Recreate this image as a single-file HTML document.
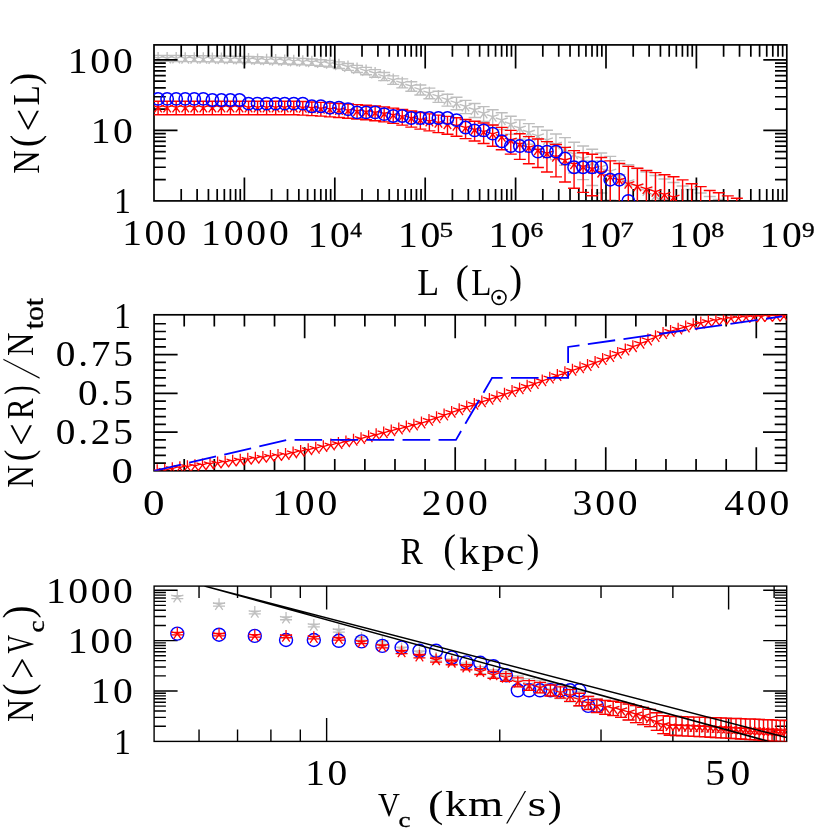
<!DOCTYPE html>
<html><head><meta charset="utf-8"><title>Satellite luminosity, radial and velocity functions</title>
<style>html,body{margin:0;padding:0;background:#fff;overflow:hidden}svg{display:block;will-change:transform}text{font-family:"Liberation Serif",serif;fill:#000}text.s{stroke:#000;stroke-width:.35px;vector-effect:non-scaling-stroke}</style>
</head><body>
<svg width="830" height="830" viewBox="0 0 830 830">
<rect width="830" height="830" fill="#fff"/>
<clipPath id="c1"><rect x="154" y="44.9" width="632.8" height="156"/></clipPath>
<g clip-path="url(#c1)">
<path d="M158.1 55.36V61.33M152.1 55.36H164.1M152.1 61.33H164.1M167.14 55.43V61.42M161.14 55.43H173.14M161.14 61.42H173.14M176.19 55.51V61.5M170.19 55.51H182.19M170.19 61.5H182.19M185.23 55.59V61.59M179.23 55.59H191.23M179.23 61.59H191.23M194.27 55.66V61.67M188.27 55.66H200.27M188.27 61.67H200.27M203.31 55.74V61.75M197.31 55.74H209.31M197.31 61.75H209.31M212.36 55.89V61.92M206.36 55.89H218.36M206.36 61.92H218.36M221.4 56.05V62.09M215.4 56.05H227.4M215.4 62.09H227.4M230.44 56.2V62.26M224.44 56.2H236.44M224.44 62.26H236.44M239.49 56.35V62.43M233.49 56.35H245.49M233.49 62.43H245.49M248.53 56.5V62.6M242.53 56.5H254.53M242.53 62.6H254.53M257.57 56.81V62.94M251.57 56.81H263.57M251.57 62.94H263.57M266.62 57.12V63.28M260.62 57.12H272.62M260.62 63.28H272.62M275.66 57.44V63.63M269.66 57.44H281.66M269.66 63.63H281.66M284.7 57.75V63.97M278.7 57.75H290.7M278.7 63.97H290.7M293.75 58.16V64.43M287.75 58.16H299.75M287.75 64.43H299.75M302.79 58.57V64.89M296.79 58.57H308.79M296.79 64.89H308.79M311.83 58.98V65.34M305.83 58.98H317.83M305.83 65.34H317.83M320.87 59.75V66.19M314.87 59.75H326.87M314.87 66.19H326.87M329.92 60.51V67.04M323.92 60.51H335.92M323.92 67.04H335.92M338.96 61.84V68.52M332.96 61.84H344.96M332.96 68.52H344.96M348 63.46V70.33M342 63.46H354M342 70.33H354M357.05 65.35V72.46M351.05 65.35H363.05M351.05 72.46H363.05M366.09 67.34V74.7M360.09 67.34H372.09M360.09 74.7H372.09M375.13 69.61V77.26M369.13 69.61H381.13M369.13 77.26H381.13M384.17 72.54V80.59M378.17 72.54H390.17M378.17 80.59H390.17M393.22 75.83V84.36M387.22 75.83H399.22M387.22 84.36H399.22M402.26 78.83V87.83M396.26 78.83H408.26M396.26 87.83H408.26M411.3 81.82V91.31M405.3 81.82H417.3M405.3 91.31H417.3M420.35 84.99V95.03M414.35 84.99H426.35M414.35 95.03H426.35M429.39 88.15V98.77M423.39 88.15H435.39M423.39 98.77H435.39M438.43 91.2V102.42M432.43 91.2H444.43M432.43 102.42H444.43M447.48 94.24V106.1M441.48 94.24H453.48M441.48 106.1H453.48M456.52 97.27V109.8M450.52 97.27H462.52M450.52 109.8H462.52M465.56 100.38V113.65M459.56 100.38H471.56M459.56 113.65H471.56M474.61 103.47V117.52M468.61 103.47H480.61M468.61 117.52H480.61M483.65 106.64V121.55M477.65 106.64H489.65M477.65 121.55H489.65M492.69 109.71V125.51M486.69 109.71H498.69M486.69 125.51H498.69M501.73 112.7V129.43M495.73 112.7H507.73M495.73 129.43H507.73M510.78 116.3V134.23M504.78 116.3H516.78M504.78 134.23H516.78M519.82 119.9V139.14M513.82 119.9H525.82M513.82 139.14H525.82M528.86 123.6V144.31M522.86 123.6H534.86M522.86 144.31H534.86M537.91 126.8V148.89M531.91 126.8H543.91M531.91 148.89H543.91M546.95 130.2V153.9M540.95 130.2H552.95M540.95 153.9H552.95M555.99 134V159.67M549.99 134H561.99M549.99 159.67H561.99M565.03 137.6V165.35M559.03 137.6H571.03M559.03 165.35H571.03M574.08 142.2V172.96M568.08 142.2H580.08M568.08 172.96H580.08M583.12 146V179.6M577.12 146H589.12M577.12 179.6H589.12M592.16 149.2V185.51M586.16 149.2H598.16M586.16 185.51H598.16M601.21 153V193M595.21 153H607.21M595.21 193H607.21M610.25 156.4V200.23M604.25 156.4H616.25M604.25 200.23H616.25M619.29 160.6V210.13M613.29 160.6H625.29M613.29 210.13H625.29M628.34 164.8V221.58M622.34 164.8H634.34M622.34 221.58H634.34M637.38 168.5V233.74M631.38 168.5H643.38M631.38 233.74H643.38M646.42 172V248.48M640.42 172H652.42M640.42 248.48H652.42M655.46 175.5V270.37M649.46 175.5H661.46M649.46 270.37H661.46M664.51 179V230.9M658.51 179H670.51M658.51 230.9H670.51M673.55 182.5V230.9M667.55 182.5H679.55M667.55 230.9H679.55M682.59 186V230.9M676.59 186H688.59M676.59 230.9H688.59M691.64 189.5V230.9M685.64 189.5H697.64M685.64 230.9H697.64M700.68 193V230.9M694.68 193H706.68M694.68 230.9H706.68M709.72 196.5V230.9M703.72 196.5H715.72M703.72 230.9H715.72M718.77 199.5V230.9M712.77 199.5H724.77M712.77 230.9H724.77M158.1 58.2L158.1 51.9M158.1 58.2L164.09 56.25M158.1 58.2L161.8 63.3M158.1 58.2L154.4 63.3M158.1 58.2L152.11 56.25M167.14 58.28L167.14 51.98M167.14 58.28L173.13 56.33M167.14 58.28L170.85 63.38M167.14 58.28L163.44 63.38M167.14 58.28L161.15 56.33M176.19 58.36L176.19 52.06M176.19 58.36L182.18 56.41M176.19 58.36L179.89 63.46M176.19 58.36L172.48 63.46M176.19 58.36L170.19 56.41M185.23 58.44L185.23 52.14M185.23 58.44L191.22 56.49M185.23 58.44L188.93 63.54M185.23 58.44L181.53 63.54M185.23 58.44L179.24 56.49M194.27 58.52L194.27 52.22M194.27 58.52L200.26 56.57M194.27 58.52L197.98 63.62M194.27 58.52L190.57 63.62M194.27 58.52L188.28 56.57M203.31 58.6L203.31 52.3M203.31 58.6L209.31 56.65M203.31 58.6L207.02 63.7M203.31 58.6L199.61 63.7M203.31 58.6L197.32 56.65M212.36 58.76L212.36 52.46M212.36 58.76L218.35 56.81M212.36 58.76L216.06 63.86M212.36 58.76L208.65 63.86M212.36 58.76L206.37 56.81M221.4 58.92L221.4 52.62M221.4 58.92L227.39 56.97M221.4 58.92L225.1 64.02M221.4 58.92L217.7 64.02M221.4 58.92L215.41 56.97M230.44 59.08L230.44 52.78M230.44 59.08L236.44 57.13M230.44 59.08L234.15 64.18M230.44 59.08L226.74 64.18M230.44 59.08L224.45 57.13M239.49 59.24L239.49 52.94M239.49 59.24L245.48 57.29M239.49 59.24L243.19 64.34M239.49 59.24L235.78 64.34M239.49 59.24L233.5 57.29M248.53 59.4L248.53 53.1M248.53 59.4L254.52 57.45M248.53 59.4L252.23 64.5M248.53 59.4L244.83 64.5M248.53 59.4L242.54 57.45M257.57 59.72L257.57 53.42M257.57 59.72L263.56 57.78M257.57 59.72L261.28 64.82M257.57 59.72L253.87 64.82M257.57 59.72L251.58 57.78M266.62 60.05L266.62 53.75M266.62 60.05L272.61 58.1M266.62 60.05L270.32 65.15M266.62 60.05L262.91 65.15M266.62 60.05L260.62 58.1M275.66 60.38L275.66 54.08M275.66 60.38L281.65 58.43M275.66 60.38L279.36 65.47M275.66 60.38L271.96 65.47M275.66 60.38L269.67 58.43M284.7 60.7L284.7 54.4M284.7 60.7L290.69 58.75M284.7 60.7L288.41 65.8M284.7 60.7L281 65.8M284.7 60.7L278.71 58.75M293.75 61.13L293.75 54.83M293.75 61.13L299.74 59.19M293.75 61.13L297.45 66.23M293.75 61.13L290.04 66.23M293.75 61.13L287.75 59.19M302.79 61.57L302.79 55.27M302.79 61.57L308.78 59.62M302.79 61.57L306.49 66.66M302.79 61.57L299.08 66.66M302.79 61.57L296.8 59.62M311.83 62L311.83 55.7M311.83 62L317.82 60.05M311.83 62L315.53 67.1M311.83 62L308.13 67.1M311.83 62L305.84 60.05M320.87 62.8L320.87 56.5M320.87 62.8L326.87 60.85M320.87 62.8L324.58 67.9M320.87 62.8L317.17 67.9M320.87 62.8L314.88 60.85M329.92 63.6L329.92 57.3M329.92 63.6L335.91 61.65M329.92 63.6L333.62 68.7M329.92 63.6L326.21 68.7M329.92 63.6L323.93 61.65M338.96 65L338.96 58.7M338.96 65L344.95 63.05M338.96 65L342.66 70.1M338.96 65L335.26 70.1M338.96 65L332.97 63.05M348 66.7L348 60.4M348 66.7L353.99 64.75M348 66.7L351.71 71.8M348 66.7L344.3 71.8M348 66.7L342.01 64.75M357.05 68.7L357.05 62.4M357.05 68.7L363.04 66.75M357.05 68.7L360.75 73.8M357.05 68.7L353.34 73.8M357.05 68.7L351.05 66.75M366.09 70.8L366.09 64.5M366.09 70.8L372.08 68.85M366.09 70.8L369.79 75.9M366.09 70.8L362.39 75.9M366.09 70.8L360.1 68.85M375.13 73.2L375.13 66.9M375.13 73.2L381.12 71.25M375.13 73.2L378.84 78.3M375.13 73.2L371.43 78.3M375.13 73.2L369.14 71.25M384.17 76.3L384.17 70M384.17 76.3L390.17 74.35M384.17 76.3L387.88 81.4M384.17 76.3L380.47 81.4M384.17 76.3L378.18 74.35M393.22 79.8L393.22 73.5M393.22 79.8L399.21 77.85M393.22 79.8L396.92 84.9M393.22 79.8L389.51 84.9M393.22 79.8L387.23 77.85M402.26 83L402.26 76.7M402.26 83L408.25 81.05M402.26 83L405.96 88.1M402.26 83L398.56 88.1M402.26 83L396.27 81.05M411.3 86.2L411.3 79.9M411.3 86.2L417.3 84.25M411.3 86.2L415.01 91.3M411.3 86.2L407.6 91.3M411.3 86.2L405.31 84.25M420.35 89.6L420.35 83.3M420.35 89.6L426.34 87.65M420.35 89.6L424.05 94.7M420.35 89.6L416.64 94.7M420.35 89.6L414.36 87.65M429.39 93L429.39 86.7M429.39 93L435.38 91.05M429.39 93L433.09 98.1M429.39 93L425.69 98.1M429.39 93L423.4 91.05M438.43 96.3L438.43 90M438.43 96.3L444.42 94.35M438.43 96.3L442.14 101.4M438.43 96.3L434.73 101.4M438.43 96.3L432.44 94.35M447.48 99.6L447.48 93.3M447.48 99.6L453.47 97.65M447.48 99.6L451.18 104.7M447.48 99.6L443.77 104.7M447.48 99.6L441.48 97.65M456.52 102.9L456.52 96.6M456.52 102.9L462.51 100.95M456.52 102.9L460.22 108M456.52 102.9L452.82 108M456.52 102.9L450.53 100.95M465.56 106.3L465.56 100M465.56 106.3L471.55 104.35M465.56 106.3L469.27 111.4M465.56 106.3L461.86 111.4M465.56 106.3L459.57 104.35M474.61 109.7L474.61 103.4M474.61 109.7L480.6 107.75M474.61 109.7L478.31 114.8M474.61 109.7L470.9 114.8M474.61 109.7L468.61 107.75M483.65 113.2L483.65 106.9M483.65 113.2L489.64 111.25M483.65 113.2L487.35 118.3M483.65 113.2L479.94 118.3M483.65 113.2L477.66 111.25M492.69 116.6L492.69 110.3M492.69 116.6L498.68 114.65M492.69 116.6L496.39 121.7M492.69 116.6L488.99 121.7M492.69 116.6L486.7 114.65M501.73 119.93L501.73 113.63M501.73 119.93L507.73 117.99M501.73 119.93L505.44 125.03M501.73 119.93L498.03 125.03M501.73 119.93L495.74 117.99M510.78 123.97L510.78 117.67M510.78 123.97L516.77 122.02M510.78 123.97L514.48 129.07M510.78 123.97L507.07 129.07M510.78 123.97L504.79 122.02M519.82 128.03L519.82 121.73M519.82 128.03L525.81 126.09M519.82 128.03L523.52 133.13M519.82 128.03L516.12 133.13M519.82 128.03L513.83 126.09M528.86 132.24L528.86 125.94M528.86 132.24L534.85 130.29M528.86 132.24L532.57 137.33M528.86 132.24L525.16 137.33M528.86 132.24L522.87 130.29M537.91 135.9L537.91 129.6M537.91 135.9L543.9 133.95M537.91 135.9L541.61 140.99M537.91 135.9L534.2 140.99M537.91 135.9L531.91 133.95M546.95 139.81L546.95 133.51M546.95 139.81L552.94 137.86M546.95 139.81L550.65 144.91M546.95 139.81L543.25 144.91M546.95 139.81L540.96 137.86M555.99 144.22L555.99 137.92M555.99 144.22L561.98 142.27M555.99 144.22L559.7 149.32M555.99 144.22L552.29 149.32M555.99 144.22L550 142.27M565.03 148.43L565.03 142.13M565.03 148.43L571.03 146.49M565.03 148.43L568.74 153.53M565.03 148.43L561.33 153.53M565.03 148.43L559.04 146.49M574.08 153.87L574.08 147.57M574.08 153.87L580.07 151.92M574.08 153.87L577.78 158.97M574.08 153.87L570.37 158.97M574.08 153.87L568.09 151.92M583.12 158.41L583.12 152.11M583.12 158.41L589.11 156.46M583.12 158.41L586.82 163.5M583.12 158.41L579.42 163.5M583.12 158.41L577.13 156.46M592.16 162.26L592.16 155.96M592.16 162.26L598.16 160.32M592.16 162.26L595.87 167.36M592.16 162.26L588.46 167.36M592.16 162.26L586.17 160.32M601.21 166.88L601.21 160.58M601.21 166.88L607.2 164.94M601.21 166.88L604.91 171.98M601.21 166.88L597.5 171.98M601.21 166.88L595.22 164.94M610.25 171.06L610.25 164.76M610.25 171.06L616.24 169.12M610.25 171.06L613.95 176.16M610.25 171.06L606.55 176.16M610.25 171.06L604.26 169.12M619.29 176.28L619.29 169.98M619.29 176.28L625.28 174.34M619.29 176.28L623 181.38M619.29 176.28L615.59 181.38M619.29 176.28L613.3 174.34M628.34 181.57L628.34 175.27M628.34 181.57L634.33 179.62M628.34 181.57L632.04 186.67M628.34 181.57L624.63 186.67M628.34 181.57L622.34 179.62M637.38 186.29L637.38 179.99M637.38 186.29L643.37 184.34M637.38 186.29L641.08 191.38M637.38 186.29L633.68 191.38M637.38 186.29L631.39 184.34M646.42 190.8L646.42 184.5M646.42 190.8L652.41 188.86M646.42 190.8L650.13 195.9M646.42 190.8L642.72 195.9M646.42 190.8L640.43 188.86M655.46 195.37L655.46 189.07M655.46 195.37L661.46 193.42M655.46 195.37L659.17 200.47M655.46 195.37L651.76 200.47M655.46 195.37L649.47 193.42M664.51 200L664.51 193.7M664.51 200L670.5 198.05M664.51 200L668.21 205.09M664.51 200L660.8 205.09M664.51 200L658.52 198.05" stroke="#bebebe" stroke-width="1.4" fill="none"/>
</g>
<rect x="154" y="44.9" width="632.8" height="156" fill="none" stroke="#000" stroke-width="1.7"/>
<path d="M244.4 44.9v23.5M244.4 200.9v-23.5M334.8 44.9v23.5M334.8 200.9v-23.5M425.2 44.9v23.5M425.2 200.9v-23.5M515.6 44.9v23.5M515.6 200.9v-23.5M606 44.9v23.5M606 200.9v-23.5M696.4 44.9v23.5M696.4 200.9v-23.5" stroke="#000" stroke-width="1.7" fill="none"/>
<path d="M181.21 44.9v11.8M181.21 200.9v-11.8M197.13 44.9v11.8M197.13 200.9v-11.8M208.43 44.9v11.8M208.43 200.9v-11.8M217.19 44.9v11.8M217.19 200.9v-11.8M224.34 44.9v11.8M224.34 200.9v-11.8M230.4 44.9v11.8M230.4 200.9v-11.8M235.64 44.9v11.8M235.64 200.9v-11.8M240.26 44.9v11.8M240.26 200.9v-11.8M271.61 44.9v11.8M271.61 200.9v-11.8M287.53 44.9v11.8M287.53 200.9v-11.8M298.83 44.9v11.8M298.83 200.9v-11.8M307.59 44.9v11.8M307.59 200.9v-11.8M314.74 44.9v11.8M314.74 200.9v-11.8M320.8 44.9v11.8M320.8 200.9v-11.8M326.04 44.9v11.8M326.04 200.9v-11.8M330.66 44.9v11.8M330.66 200.9v-11.8M362.01 44.9v11.8M362.01 200.9v-11.8M377.93 44.9v11.8M377.93 200.9v-11.8M389.23 44.9v11.8M389.23 200.9v-11.8M397.99 44.9v11.8M397.99 200.9v-11.8M405.14 44.9v11.8M405.14 200.9v-11.8M411.2 44.9v11.8M411.2 200.9v-11.8M416.44 44.9v11.8M416.44 200.9v-11.8M421.06 44.9v11.8M421.06 200.9v-11.8M452.41 44.9v11.8M452.41 200.9v-11.8M468.33 44.9v11.8M468.33 200.9v-11.8M479.63 44.9v11.8M479.63 200.9v-11.8M488.39 44.9v11.8M488.39 200.9v-11.8M495.54 44.9v11.8M495.54 200.9v-11.8M501.6 44.9v11.8M501.6 200.9v-11.8M506.84 44.9v11.8M506.84 200.9v-11.8M511.46 44.9v11.8M511.46 200.9v-11.8M542.81 44.9v11.8M542.81 200.9v-11.8M558.73 44.9v11.8M558.73 200.9v-11.8M570.03 44.9v11.8M570.03 200.9v-11.8M578.79 44.9v11.8M578.79 200.9v-11.8M585.94 44.9v11.8M585.94 200.9v-11.8M592 44.9v11.8M592 200.9v-11.8M597.24 44.9v11.8M597.24 200.9v-11.8M601.86 44.9v11.8M601.86 200.9v-11.8M633.21 44.9v11.8M633.21 200.9v-11.8M649.13 44.9v11.8M649.13 200.9v-11.8M660.43 44.9v11.8M660.43 200.9v-11.8M669.19 44.9v11.8M669.19 200.9v-11.8M676.34 44.9v11.8M676.34 200.9v-11.8M682.4 44.9v11.8M682.4 200.9v-11.8M687.64 44.9v11.8M687.64 200.9v-11.8M692.26 44.9v11.8M692.26 200.9v-11.8M723.61 44.9v11.8M723.61 200.9v-11.8M739.53 44.9v11.8M739.53 200.9v-11.8M750.83 44.9v11.8M750.83 200.9v-11.8M759.59 44.9v11.8M759.59 200.9v-11.8M766.74 44.9v11.8M766.74 200.9v-11.8M772.8 44.9v11.8M772.8 200.9v-11.8M778.04 44.9v11.8M778.04 200.9v-11.8M782.66 44.9v11.8M782.66 200.9v-11.8" stroke="#000" stroke-width="1.7" fill="none"/>
<path d="M154 130.4h23.5M786.8 130.4h-23.5M154 59.9h23.5M786.8 59.9h-23.5" stroke="#000" stroke-width="1.7" fill="none"/>
<path d="M154 179.68h11.8M786.8 179.68h-11.8M154 167.26h11.8M786.8 167.26h-11.8M154 158.45h11.8M786.8 158.45h-11.8M154 151.62h11.8M786.8 151.62h-11.8M154 146.04h11.8M786.8 146.04h-11.8M154 141.32h11.8M786.8 141.32h-11.8M154 137.23h11.8M786.8 137.23h-11.8M154 133.63h11.8M786.8 133.63h-11.8M154 109.18h11.8M786.8 109.18h-11.8M154 96.76h11.8M786.8 96.76h-11.8M154 87.95h11.8M786.8 87.95h-11.8M154 81.12h11.8M786.8 81.12h-11.8M154 75.54h11.8M786.8 75.54h-11.8M154 70.82h11.8M786.8 70.82h-11.8M154 66.73h11.8M786.8 66.73h-11.8M154 63.13h11.8M786.8 63.13h-11.8" stroke="#000" stroke-width="1.7" fill="none"/>
<g clip-path="url(#c1)">
<path d="M158.1 101.29V114.78M152.1 101.29H164.1M152.1 114.78H164.1M167.14 101.29V114.78M161.14 101.29H173.14M161.14 114.78H173.14M176.19 101.29V114.78M170.19 101.29H182.19M170.19 114.78H182.19M185.23 101.29V114.78M179.23 101.29H191.23M179.23 114.78H191.23M194.27 101.29V114.78M188.27 101.29H200.27M188.27 114.78H200.27M203.31 101.29V114.78M197.31 101.29H209.31M197.31 114.78H209.31M212.36 101.29V114.78M206.36 101.29H218.36M206.36 114.78H218.36M221.4 101.29V114.78M215.4 101.29H227.4M215.4 114.78H227.4M230.44 101.29V114.78M224.44 101.29H236.44M224.44 114.78H236.44M239.49 101.29V114.78M233.49 101.29H245.49M233.49 114.78H245.49M248.53 101.29V114.78M242.53 101.29H254.53M242.53 114.78H254.53M257.57 101.29V114.78M251.57 101.29H263.57M251.57 114.78H263.57M266.62 101.29V114.78M260.62 101.29H272.62M260.62 114.78H272.62M275.66 101.29V114.78M269.66 101.29H281.66M269.66 114.78H281.66M284.7 101.29V114.78M278.7 101.29H290.7M278.7 114.78H290.7M293.75 101.29V114.78M287.75 101.29H299.75M287.75 114.78H299.75M302.79 101.56V115.13M296.79 101.56H308.79M296.79 115.13H308.79M311.83 101.93V115.58M305.83 101.93H317.83M305.83 115.58H317.83M320.87 102.38V116.15M314.87 102.38H326.87M314.87 116.15H326.87M329.92 102.93V116.84M323.92 102.93H335.92M323.92 116.84H335.92M338.96 103.47V117.52M332.96 103.47H344.96M332.96 117.52H344.96M348 104.02V118.21M342 104.02H354M342 118.21H354M357.05 104.65V119.02M351.05 104.65H363.05M351.05 119.02H363.05M366.09 105.29V119.82M360.09 105.29H372.09M360.09 119.82H372.09M375.13 106.01V120.74M369.13 106.01H381.13M369.13 120.74H381.13M384.17 106.91V121.9M378.17 106.91H390.17M378.17 121.9H390.17M393.22 108.09V123.41M387.22 108.09H399.22M387.22 123.41H399.22M402.26 109.44V125.16M396.26 109.44H408.26M396.26 125.16H408.26M411.3 110.97V127.15M405.3 110.97H417.3M405.3 127.15H417.3M420.35 112.49V129.15M414.35 112.49H426.35M414.35 129.15H426.35M429.39 113.83V130.92M423.39 113.83H435.39M423.39 130.92H435.39M438.43 115.08V132.59M432.43 115.08H444.43M432.43 132.59H444.43M447.48 116.33V134.26M441.48 116.33H453.48M441.48 134.26H453.48M456.52 117.75V136.19M450.52 117.75H462.52M450.52 136.19H462.52M465.56 119.52V138.61M459.56 119.52H471.56M459.56 138.61H471.56M474.61 121.19V140.93M468.61 121.19H480.61M468.61 140.93H480.61M483.65 123.04V143.52M477.65 123.04H489.65M477.65 143.52H489.65M492.69 124.97V146.26M486.69 124.97H498.69M486.69 146.26H498.69M501.73 127.41V149.79M495.73 127.41H507.73M495.73 149.79H507.73M510.78 130.36V154.14M504.78 130.36H516.78M504.78 154.14H516.78M519.82 133.81V159.38M513.82 133.81H525.82M513.82 159.38H525.82M528.86 136.63V163.81M522.86 136.63H534.86M522.86 163.81H534.86M537.91 138.93V167.51M531.91 138.93H543.91M531.91 167.51H543.91M546.95 141.64V172M540.95 141.64H552.95M540.95 172H552.95M555.99 144.49V176.92M549.99 144.49H561.99M549.99 176.92H561.99M565.03 147.33V182.02M559.03 147.33H571.03M559.03 182.02H571.03M574.08 150.63V188.27M568.08 150.63H580.08M568.08 188.27H580.08M583.12 152.69V192.35M577.12 152.69H589.12M577.12 192.35H589.12M592.16 154.32V195.73M586.16 154.32H598.16M586.16 195.73H598.16M601.21 157.48V202.67M595.21 157.48H607.21M595.21 202.67H607.21M610.25 160.85V210.77M604.25 160.85H616.25M604.25 210.77H616.25M619.29 163.56V217.99M613.29 163.56H625.29M613.29 217.99H625.29M628.34 166.4V226.52M622.34 166.4H634.34M622.34 226.52H634.34M637.38 168.2V232.64M631.38 168.2H643.38M631.38 232.64H643.38M646.42 170.45V241.42M640.42 170.45H652.42M640.42 241.42H652.42M655.46 172.61V251.6M649.46 172.61H661.46M649.46 251.6H661.46M664.51 174.68V264.14M658.51 174.68H670.51M658.51 264.14H670.51M673.55 176.81V283.15M667.55 176.81H679.55M667.55 283.15H679.55M682.59 179.9V230.9M676.59 179.9H688.59M676.59 230.9H688.59M691.64 183.7V230.9M685.64 183.7H697.64M685.64 230.9H697.64M700.68 186.6V230.9M694.68 186.6H706.68M694.68 230.9H706.68M709.72 190.5V230.9M703.72 190.5H715.72M703.72 230.9H715.72M718.77 192.8V230.9M712.77 192.8H724.77M712.77 230.9H724.77M727.81 195.9V230.9M721.81 195.9H733.81M721.81 230.9H733.81M736.85 198.2V230.9M730.85 198.2H742.85M730.85 230.9H742.85M158.1 107.3L158.1 101M158.1 107.3L164.09 105.35M158.1 107.3L161.8 112.4M158.1 107.3L154.4 112.4M158.1 107.3L152.11 105.35M167.14 107.3L167.14 101M167.14 107.3L173.13 105.35M167.14 107.3L170.85 112.4M167.14 107.3L163.44 112.4M167.14 107.3L161.15 105.35M176.19 107.3L176.19 101M176.19 107.3L182.18 105.35M176.19 107.3L179.89 112.4M176.19 107.3L172.48 112.4M176.19 107.3L170.19 105.35M185.23 107.3L185.23 101M185.23 107.3L191.22 105.35M185.23 107.3L188.93 112.4M185.23 107.3L181.53 112.4M185.23 107.3L179.24 105.35M194.27 107.3L194.27 101M194.27 107.3L200.26 105.35M194.27 107.3L197.98 112.4M194.27 107.3L190.57 112.4M194.27 107.3L188.28 105.35M203.31 107.3L203.31 101M203.31 107.3L209.31 105.35M203.31 107.3L207.02 112.4M203.31 107.3L199.61 112.4M203.31 107.3L197.32 105.35M212.36 107.3L212.36 101M212.36 107.3L218.35 105.35M212.36 107.3L216.06 112.4M212.36 107.3L208.65 112.4M212.36 107.3L206.37 105.35M221.4 107.3L221.4 101M221.4 107.3L227.39 105.35M221.4 107.3L225.1 112.4M221.4 107.3L217.7 112.4M221.4 107.3L215.41 105.35M230.44 107.3L230.44 101M230.44 107.3L236.44 105.35M230.44 107.3L234.15 112.4M230.44 107.3L226.74 112.4M230.44 107.3L224.45 105.35M239.49 107.3L239.49 101M239.49 107.3L245.48 105.35M239.49 107.3L243.19 112.4M239.49 107.3L235.78 112.4M239.49 107.3L233.5 105.35M248.53 107.3L248.53 101M248.53 107.3L254.52 105.35M248.53 107.3L252.23 112.4M248.53 107.3L244.83 112.4M248.53 107.3L242.54 105.35M257.57 107.3L257.57 101M257.57 107.3L263.56 105.35M257.57 107.3L261.28 112.4M257.57 107.3L253.87 112.4M257.57 107.3L251.58 105.35M266.62 107.3L266.62 101M266.62 107.3L272.61 105.35M266.62 107.3L270.32 112.4M266.62 107.3L262.91 112.4M266.62 107.3L260.62 105.35M275.66 107.3L275.66 101M275.66 107.3L281.65 105.35M275.66 107.3L279.36 112.4M275.66 107.3L271.96 112.4M275.66 107.3L269.67 105.35M284.7 107.3L284.7 101M284.7 107.3L290.69 105.35M284.7 107.3L288.41 112.4M284.7 107.3L281 112.4M284.7 107.3L278.71 105.35M293.75 107.3L293.75 101M293.75 107.3L299.74 105.35M293.75 107.3L297.45 112.4M293.75 107.3L290.04 112.4M293.75 107.3L287.75 105.35M302.79 107.6L302.79 101.3M302.79 107.6L308.78 105.65M302.79 107.6L306.49 112.7M302.79 107.6L299.08 112.7M302.79 107.6L296.8 105.65M311.83 108L311.83 101.7M311.83 108L317.82 106.05M311.83 108L315.53 113.1M311.83 108L308.13 113.1M311.83 108L305.84 106.05M320.87 108.5L320.87 102.2M320.87 108.5L326.87 106.55M320.87 108.5L324.58 113.6M320.87 108.5L317.17 113.6M320.87 108.5L314.88 106.55M329.92 109.1L329.92 102.8M329.92 109.1L335.91 107.15M329.92 109.1L333.62 114.2M329.92 109.1L326.21 114.2M329.92 109.1L323.93 107.15M338.96 109.7L338.96 103.4M338.96 109.7L344.95 107.75M338.96 109.7L342.66 114.8M338.96 109.7L335.26 114.8M338.96 109.7L332.97 107.75M348 110.3L348 104M348 110.3L353.99 108.35M348 110.3L351.71 115.4M348 110.3L344.3 115.4M348 110.3L342.01 108.35M357.05 111L357.05 104.7M357.05 111L363.04 109.05M357.05 111L360.75 116.1M357.05 111L353.34 116.1M357.05 111L351.05 109.05M366.09 111.7L366.09 105.4M366.09 111.7L372.08 109.75M366.09 111.7L369.79 116.8M366.09 111.7L362.39 116.8M366.09 111.7L360.1 109.75M375.13 112.5L375.13 106.2M375.13 112.5L381.12 110.55M375.13 112.5L378.84 117.6M375.13 112.5L371.43 117.6M375.13 112.5L369.14 110.55M384.17 113.5L384.17 107.2M384.17 113.5L390.17 111.55M384.17 113.5L387.88 118.6M384.17 113.5L380.47 118.6M384.17 113.5L378.18 111.55M393.22 114.8L393.22 108.5M393.22 114.8L399.21 112.85M393.22 114.8L396.92 119.9M393.22 114.8L389.51 119.9M393.22 114.8L387.23 112.85M402.26 116.3L402.26 110M402.26 116.3L408.25 114.35M402.26 116.3L405.96 121.4M402.26 116.3L398.56 121.4M402.26 116.3L396.27 114.35M411.3 118L411.3 111.7M411.3 118L417.3 116.05M411.3 118L415.01 123.1M411.3 118L407.6 123.1M411.3 118L405.31 116.05M420.35 119.7L420.35 113.4M420.35 119.7L426.34 117.75M420.35 119.7L424.05 124.8M420.35 119.7L416.64 124.8M420.35 119.7L414.36 117.75M429.39 121.2L429.39 114.9M429.39 121.2L435.38 119.25M429.39 121.2L433.09 126.3M429.39 121.2L425.69 126.3M429.39 121.2L423.4 119.25M438.43 122.6L438.43 116.3M438.43 122.6L444.42 120.65M438.43 122.6L442.14 127.7M438.43 122.6L434.73 127.7M438.43 122.6L432.44 120.65M447.48 124L447.48 117.7M447.48 124L453.47 122.05M447.48 124L451.18 129.1M447.48 124L443.77 129.1M447.48 124L441.48 122.05M456.52 125.6L456.52 119.3M456.52 125.6L462.51 123.65M456.52 125.6L460.22 130.7M456.52 125.6L452.82 130.7M456.52 125.6L450.53 123.65M465.56 127.6L465.56 121.3M465.56 127.6L471.55 125.65M465.56 127.6L469.27 132.7M465.56 127.6L461.86 132.7M465.56 127.6L459.57 125.65M474.61 129.5L474.61 123.2M474.61 129.5L480.6 127.55M474.61 129.5L478.31 134.6M474.61 129.5L470.9 134.6M474.61 129.5L468.61 127.55M483.65 131.6L483.65 125.3M483.65 131.6L489.64 129.65M483.65 131.6L487.35 136.7M483.65 131.6L479.94 136.7M483.65 131.6L477.66 129.65M492.69 133.8L492.69 127.5M492.69 133.8L498.68 131.85M492.69 133.8L496.39 138.9M492.69 133.8L488.99 138.9M492.69 133.8L486.7 131.85M501.73 136.6L501.73 130.3M501.73 136.6L507.73 134.65M501.73 136.6L505.44 141.7M501.73 136.6L498.03 141.7M501.73 136.6L495.74 134.65M510.78 140L510.78 133.7M510.78 140L516.77 138.05M510.78 140L514.48 145.1M510.78 140L507.07 145.1M510.78 140L504.79 138.05M519.82 144L519.82 137.7M519.82 144L525.81 142.05M519.82 144L523.52 149.1M519.82 144L516.12 149.1M519.82 144L513.83 142.05M528.86 147.3L528.86 141M528.86 147.3L534.85 145.35M528.86 147.3L532.57 152.4M528.86 147.3L525.16 152.4M528.86 147.3L522.87 145.35M537.91 150L537.91 143.7M537.91 150L543.9 148.05M537.91 150L541.61 155.1M537.91 150L534.2 155.1M537.91 150L531.91 148.05M546.95 153.2L546.95 146.9M546.95 153.2L552.94 151.25M546.95 153.2L550.65 158.3M546.95 153.2L543.25 158.3M546.95 153.2L540.96 151.25M555.99 156.6L555.99 150.3M555.99 156.6L561.98 154.65M555.99 156.6L559.7 161.7M555.99 156.6L552.29 161.7M555.99 156.6L550 154.65M565.03 160L565.03 153.7M565.03 160L571.03 158.05M565.03 160L568.74 165.1M565.03 160L561.33 165.1M565.03 160L559.04 158.05M574.08 164L574.08 157.7M574.08 164L580.07 162.05M574.08 164L577.78 169.1M574.08 164L570.37 169.1M574.08 164L568.09 162.05M583.12 166.5L583.12 160.2M583.12 166.5L589.11 164.55M583.12 166.5L586.82 171.6M583.12 166.5L579.42 171.6M583.12 166.5L577.13 164.55M592.16 168.5L592.16 162.2M592.16 168.5L598.16 166.55M592.16 168.5L595.87 173.6M592.16 168.5L588.46 173.6M592.16 168.5L586.17 166.55M601.21 172.4L601.21 166.1M601.21 172.4L607.2 170.45M601.21 172.4L604.91 177.5M601.21 172.4L597.5 177.5M601.21 172.4L595.22 170.45M610.25 176.6L610.25 170.3M610.25 176.6L616.24 174.65M610.25 176.6L613.95 181.7M610.25 176.6L606.55 181.7M610.25 176.6L604.26 174.65M619.29 180L619.29 173.7M619.29 180L625.28 178.05M619.29 180L623 185.1M619.29 180L615.59 185.1M619.29 180L613.3 178.05M628.34 183.6L628.34 177.3M628.34 183.6L634.33 181.65M628.34 183.6L632.04 188.7M628.34 183.6L624.63 188.7M628.34 183.6L622.34 181.65M637.38 185.9L637.38 179.6M637.38 185.9L643.37 183.95M637.38 185.9L641.08 191M637.38 185.9L633.68 191M637.38 185.9L631.39 183.95M646.42 188.8L646.42 182.5M646.42 188.8L652.41 186.85M646.42 188.8L650.13 193.9M646.42 188.8L642.72 193.9M646.42 188.8L640.43 186.85M655.46 191.6L655.46 185.3M655.46 191.6L661.46 189.65M655.46 191.6L659.17 196.7M655.46 191.6L651.76 196.7M655.46 191.6L649.47 189.65M664.51 194.3L664.51 188M664.51 194.3L670.5 192.35M664.51 194.3L668.21 199.4M664.51 194.3L660.8 199.4M664.51 194.3L658.52 192.35M673.55 197.1L673.55 190.8M673.55 197.1L679.54 195.15M673.55 197.1L677.25 202.2M673.55 197.1L669.85 202.2M673.55 197.1L667.56 195.15" stroke="#ff0000" stroke-width="1.4" fill="none"/>
<g fill="none" stroke="#0000ff" stroke-width="1.5">
<circle cx="158.1" cy="98.88" r="6.2"/>
<circle cx="167.14" cy="98.88" r="6.2"/>
<circle cx="176.19" cy="98.88" r="6.2"/>
<circle cx="185.23" cy="98.88" r="6.2"/>
<circle cx="194.27" cy="98.88" r="6.2"/>
<circle cx="203.31" cy="98.88" r="6.2"/>
<circle cx="212.36" cy="99.99" r="6.2"/>
<circle cx="221.4" cy="99.99" r="6.2"/>
<circle cx="230.44" cy="99.99" r="6.2"/>
<circle cx="239.49" cy="99.99" r="6.2"/>
<circle cx="248.53" cy="103.6" r="6.2"/>
<circle cx="257.57" cy="103.6" r="6.2"/>
<circle cx="266.62" cy="103.6" r="6.2"/>
<circle cx="275.66" cy="103.6" r="6.2"/>
<circle cx="284.7" cy="103.6" r="6.2"/>
<circle cx="293.75" cy="103.6" r="6.2"/>
<circle cx="302.79" cy="103.6" r="6.2"/>
<circle cx="311.83" cy="106.26" r="6.2"/>
<circle cx="320.87" cy="106.26" r="6.2"/>
<circle cx="329.92" cy="107.68" r="6.2"/>
<circle cx="338.96" cy="107.68" r="6.2"/>
<circle cx="348" cy="109.18" r="6.2"/>
<circle cx="357.05" cy="112.4" r="6.2"/>
<circle cx="366.09" cy="112.4" r="6.2"/>
<circle cx="375.13" cy="112.4" r="6.2"/>
<circle cx="384.17" cy="114.15" r="6.2"/>
<circle cx="393.22" cy="116.01" r="6.2"/>
<circle cx="402.26" cy="116.01" r="6.2"/>
<circle cx="411.3" cy="117.99" r="6.2"/>
<circle cx="420.35" cy="117.99" r="6.2"/>
<circle cx="429.39" cy="117.99" r="6.2"/>
<circle cx="438.43" cy="117.99" r="6.2"/>
<circle cx="447.48" cy="117.99" r="6.2"/>
<circle cx="456.52" cy="120.1" r="6.2"/>
<circle cx="465.56" cy="127.48" r="6.2"/>
<circle cx="474.61" cy="130.4" r="6.2"/>
<circle cx="483.65" cy="130.4" r="6.2"/>
<circle cx="492.69" cy="133.63" r="6.2"/>
<circle cx="501.73" cy="141.32" r="6.2"/>
<circle cx="510.78" cy="146.04" r="6.2"/>
<circle cx="519.82" cy="146.04" r="6.2"/>
<circle cx="528.86" cy="146.04" r="6.2"/>
<circle cx="537.91" cy="151.62" r="6.2"/>
<circle cx="546.95" cy="151.62" r="6.2"/>
<circle cx="555.99" cy="151.62" r="6.2"/>
<circle cx="565.03" cy="158.45" r="6.2"/>
<circle cx="574.08" cy="167.26" r="6.2"/>
<circle cx="583.12" cy="167.26" r="6.2"/>
<circle cx="592.16" cy="167.26" r="6.2"/>
<circle cx="601.21" cy="167.26" r="6.2"/>
<circle cx="610.25" cy="179.68" r="6.2"/>
<circle cx="619.29" cy="179.68" r="6.2"/>
<circle cx="628.34" cy="200.9" r="6.2"/>
</g></g>
<text transform="translate(67.63,72.69) scale(1.100,1)" font-size="36" letter-spacing="2.66">100</text>
<text transform="translate(90.63,142.59) scale(1.100,1)" font-size="36" letter-spacing="2.41">10</text>
<text transform="translate(114.03,213.1) scale(0.926,1)" font-size="36.52">1</text>
<text transform="translate(122.23,245.34) scale(1.100,1)" font-size="36" letter-spacing="2.16">100</text>
<text transform="translate(200.93,245.34) scale(1.100,1)" font-size="36" letter-spacing="2.65">1000</text>
<text transform="translate(307.63,246.94) scale(1.100,1)" font-size="36" letter-spacing="2.41">10</text>
<text class="s" transform="translate(350.23,237) scale(1.097,1)" font-size="21.36">4</text>
<text transform="translate(398.03,246.94) scale(1.100,1)" font-size="36" letter-spacing="2.41">10</text>
<text class="s" transform="translate(439.47,236.79) scale(1.285,1)" font-size="21.2">5</text>
<text transform="translate(488.43,246.94) scale(1.100,1)" font-size="36" letter-spacing="2.41">10</text>
<text class="s" transform="translate(530.49,236.79) scale(1.205,1)" font-size="21.04">6</text>
<text transform="translate(578.83,246.94) scale(1.100,1)" font-size="36" letter-spacing="2.41">10</text>
<text class="s" transform="translate(620.15,237) scale(1.250,1)" font-size="21.53">7</text>
<text transform="translate(669.23,246.94) scale(1.100,1)" font-size="36" letter-spacing="2.41">10</text>
<text class="s" transform="translate(711.26,236.79) scale(1.242,1)" font-size="20.89">8</text>
<text transform="translate(759.63,246.94) scale(1.100,1)" font-size="36" letter-spacing="2.41">10</text>
<text class="s" transform="translate(801.94,236.79) scale(1.205,1)" font-size="21.04">9</text>
<text transform="translate(417.13,295) scale(0.945,1)" font-size="37.86">L</text>
<text transform="translate(455.5,293.42) scale(1.014,1)" font-size="39.45">(</text>
<text transform="translate(471.21,295) scale(0.874,1)" font-size="37.86">L</text>
<circle cx="499" cy="297.5" r="7" fill="none" stroke="#000" stroke-width="1.5"/><circle cx="499" cy="297.5" r="2" fill="#000"/>
<text transform="translate(509.33,293.42) scale(0.985,1)" font-size="39.45">)</text>
<text transform="translate(39.3,173.77) rotate(-90) scale(0.845,1)" font-size="38.32">N</text>
<text transform="translate(38.28,146.96) rotate(-90) scale(0.909,1)" font-size="40.55">(</text>
<text transform="translate(43.03,131.42) rotate(-90) scale(0.904,1)" font-size="44.74">&lt;</text>
<text transform="translate(39.3,105.5) rotate(-90) scale(0.868,1)" font-size="38.32">L</text>
<text transform="translate(38.28,84.98) rotate(-90) scale(0.892,1)" font-size="40.55">)</text>
<clipPath id="c2"><rect x="154.1" y="314.8" width="632.4" height="156"/></clipPath>
<rect x="154.1" y="314.8" width="632.4" height="156" fill="none" stroke="#000" stroke-width="1.7"/>
<path d="M304.65 314.8v23.5M304.65 470.8v-23.5M455.2 314.8v23.5M455.2 470.8v-23.5M605.75 314.8v23.5M605.75 470.8v-23.5M756.3 314.8v23.5M756.3 470.8v-23.5" stroke="#000" stroke-width="1.7" fill="none"/>
<path d="M184.21 314.8v11.8M184.21 470.8v-11.8M214.32 314.8v11.8M214.32 470.8v-11.8M244.43 314.8v11.8M244.43 470.8v-11.8M274.54 314.8v11.8M274.54 470.8v-11.8M334.76 314.8v11.8M334.76 470.8v-11.8M364.87 314.8v11.8M364.87 470.8v-11.8M394.98 314.8v11.8M394.98 470.8v-11.8M425.09 314.8v11.8M425.09 470.8v-11.8M485.31 314.8v11.8M485.31 470.8v-11.8M515.42 314.8v11.8M515.42 470.8v-11.8M545.53 314.8v11.8M545.53 470.8v-11.8M575.64 314.8v11.8M575.64 470.8v-11.8M635.86 314.8v11.8M635.86 470.8v-11.8M665.97 314.8v11.8M665.97 470.8v-11.8M696.08 314.8v11.8M696.08 470.8v-11.8M726.19 314.8v11.8M726.19 470.8v-11.8" stroke="#000" stroke-width="1.7" fill="none"/>
<path d="M154.1 432.1h23.5M786.5 432.1h-23.5M154.1 393.4h23.5M786.5 393.4h-23.5M154.1 354.7h23.5M786.5 354.7h-23.5" stroke="#000" stroke-width="1.7" fill="none"/>
<path d="M154.1 463.06h11.8M786.5 463.06h-11.8M154.1 455.32h11.8M786.5 455.32h-11.8M154.1 447.58h11.8M786.5 447.58h-11.8M154.1 439.84h11.8M786.5 439.84h-11.8M154.1 424.36h11.8M786.5 424.36h-11.8M154.1 416.62h11.8M786.5 416.62h-11.8M154.1 408.88h11.8M786.5 408.88h-11.8M154.1 401.14h11.8M786.5 401.14h-11.8M154.1 385.66h11.8M786.5 385.66h-11.8M154.1 377.92h11.8M786.5 377.92h-11.8M154.1 370.18h11.8M786.5 370.18h-11.8M154.1 362.44h11.8M786.5 362.44h-11.8M154.1 346.96h11.8M786.5 346.96h-11.8M154.1 339.22h11.8M786.5 339.22h-11.8M154.1 331.48h11.8M786.5 331.48h-11.8M154.1 323.74h11.8M786.5 323.74h-11.8" stroke="#000" stroke-width="1.7" fill="none"/>
<g clip-path="url(#c2)">
<path d="M157.2 470.79L157.2 464.29M157.2 470.79L163.38 468.79M157.2 470.79L161.02 476.05M157.2 470.79L153.38 476.05M157.2 470.79L151.02 468.79M164.75 470.31L164.75 463.81M164.75 470.31L170.93 468.3M164.75 470.31L168.57 475.57M164.75 470.31L160.93 475.57M164.75 470.31L158.57 468.3M172.3 468.73L172.3 462.23M172.3 468.73L178.48 466.72M172.3 468.73L176.12 473.99M172.3 468.73L168.48 473.99M172.3 468.73L166.12 466.72M179.85 467.68L179.85 461.18M179.85 467.68L186.03 465.67M179.85 467.68L183.67 472.94M179.85 467.68L176.03 472.94M179.85 467.68L173.67 465.67M187.4 466.7L187.4 460.2M187.4 466.7L193.58 464.69M187.4 466.7L191.22 471.96M187.4 466.7L183.58 471.96M187.4 466.7L181.22 464.69M194.95 465.8L194.95 459.3M194.95 465.8L201.13 463.79M194.95 465.8L198.77 471.06M194.95 465.8L191.13 471.06M194.95 465.8L188.77 463.79M202.5 464.89L202.5 458.39M202.5 464.89L208.68 462.88M202.5 464.89L206.32 470.15M202.5 464.89L198.68 470.15M202.5 464.89L196.32 462.88M210.05 463.99L210.05 457.49M210.05 463.99L216.23 461.98M210.05 463.99L213.87 469.25M210.05 463.99L206.23 469.25M210.05 463.99L203.87 461.98M217.6 463.08L217.6 456.58M217.6 463.08L223.78 461.07M217.6 463.08L221.42 468.34M217.6 463.08L213.78 468.34M217.6 463.08L211.42 461.07M225.15 462.14L225.15 455.64M225.15 462.14L231.33 460.13M225.15 462.14L228.97 467.39M225.15 462.14L221.33 467.39M225.15 462.14L218.97 460.13M232.7 461.19L232.7 454.69M232.7 461.19L238.88 459.18M232.7 461.19L236.52 466.45M232.7 461.19L228.88 466.45M232.7 461.19L226.52 459.18M240.25 460.24L240.25 453.74M240.25 460.24L246.43 458.23M240.25 460.24L244.07 465.5M240.25 460.24L236.43 465.5M240.25 460.24L234.07 458.23M247.8 459.3L247.8 452.8M247.8 459.3L253.98 457.29M247.8 459.3L251.62 464.55M247.8 459.3L243.98 464.55M247.8 459.3L241.62 457.29M255.35 458.35L255.35 451.85M255.35 458.35L261.53 456.34M255.35 458.35L259.17 463.61M255.35 458.35L251.53 463.61M255.35 458.35L249.17 456.34M262.9 457.4L262.9 450.9M262.9 457.4L269.08 455.39M262.9 457.4L266.72 462.66M262.9 457.4L259.08 462.66M262.9 457.4L256.72 455.39M270.45 456.46L270.45 449.96M270.45 456.46L276.63 454.45M270.45 456.46L274.27 461.71M270.45 456.46L266.63 461.71M270.45 456.46L264.27 454.45M278 455.51L278 449.01M278 455.51L284.18 453.5M278 455.51L281.82 460.77M278 455.51L274.18 460.77M278 455.51L271.82 453.5M285.55 454.56L285.55 448.06M285.55 454.56L291.73 452.55M285.55 454.56L289.37 459.82M285.55 454.56L281.73 459.82M285.55 454.56L279.37 452.55M293.1 452.99L293.1 446.49M293.1 452.99L299.28 450.99M293.1 452.99L296.92 458.25M293.1 452.99L289.28 458.25M293.1 452.99L286.92 450.99M300.65 451.42L300.65 444.92M300.65 451.42L306.83 449.41M300.65 451.42L304.47 456.67M300.65 451.42L296.83 456.67M300.65 451.42L294.47 449.41M308.2 449.84L308.2 443.34M308.2 449.84L314.38 447.83M308.2 449.84L312.02 455.1M308.2 449.84L304.38 455.1M308.2 449.84L302.02 447.83M315.75 448.26L315.75 441.76M315.75 448.26L321.93 446.25M315.75 448.26L319.57 453.52M315.75 448.26L311.93 453.52M315.75 448.26L309.57 446.25M323.3 446.68L323.3 440.18M323.3 446.68L329.48 444.67M323.3 446.68L327.12 451.94M323.3 446.68L319.48 451.94M323.3 446.68L317.12 444.67M330.85 445.1L330.85 438.6M330.85 445.1L337.03 443.1M330.85 445.1L334.67 450.36M330.85 445.1L327.03 450.36M330.85 445.1L324.67 443.1M338.4 443.53L338.4 437.03M338.4 443.53L344.58 441.52M338.4 443.53L342.22 448.79M338.4 443.53L334.58 448.79M338.4 443.53L332.22 441.52M345.95 441.95L345.95 435.45M345.95 441.95L352.13 439.94M345.95 441.95L349.77 447.21M345.95 441.95L342.13 447.21M345.95 441.95L339.77 439.94M353.5 440.37L353.5 433.87M353.5 440.37L359.68 438.36M353.5 440.37L357.32 445.63M353.5 440.37L349.68 445.63M353.5 440.37L347.32 438.36M361.05 438.73L361.05 432.23M361.05 438.73L367.23 436.72M361.05 438.73L364.87 443.99M361.05 438.73L357.23 443.99M361.05 438.73L354.87 436.72M368.6 436.79L368.6 430.29M368.6 436.79L374.78 434.78M368.6 436.79L372.42 442.05M368.6 436.79L364.78 442.05M368.6 436.79L362.42 434.78M376.15 434.85L376.15 428.35M376.15 434.85L382.33 432.84M376.15 434.85L379.97 440.11M376.15 434.85L372.33 440.11M376.15 434.85L369.97 432.84M383.7 432.91L383.7 426.41M383.7 432.91L389.88 430.9M383.7 432.91L387.52 438.17M383.7 432.91L379.88 438.17M383.7 432.91L377.52 430.9M391.25 430.97L391.25 424.47M391.25 430.97L397.43 428.96M391.25 430.97L395.07 436.23M391.25 430.97L387.43 436.23M391.25 430.97L385.07 428.96M398.8 429.03L398.8 422.53M398.8 429.03L404.98 427.02M398.8 429.03L402.62 434.29M398.8 429.03L394.98 434.29M398.8 429.03L392.62 427.02M406.35 427.09L406.35 420.59M406.35 427.09L412.53 425.08M406.35 427.09L410.17 432.35M406.35 427.09L402.53 432.35M406.35 427.09L400.17 425.08M413.9 425.15L413.9 418.65M413.9 425.15L420.08 423.14M413.9 425.15L417.72 430.41M413.9 425.15L410.08 430.41M413.9 425.15L407.72 423.14M421.45 423.12L421.45 416.62M421.45 423.12L427.63 421.11M421.45 423.12L425.27 428.38M421.45 423.12L417.63 428.38M421.45 423.12L415.27 421.11M429 420.45L429 413.95M429 420.45L435.18 418.44M429 420.45L432.82 425.71M429 420.45L425.18 425.71M429 420.45L422.82 418.44M436.55 417.79L436.55 411.29M436.55 417.79L442.73 415.78M436.55 417.79L440.37 423.04M436.55 417.79L432.73 423.04M436.55 417.79L430.37 415.78M444.1 415.12L444.1 408.62M444.1 415.12L450.28 413.11M444.1 415.12L447.92 420.38M444.1 415.12L440.28 420.38M444.1 415.12L437.92 413.11M451.65 412.45L451.65 405.95M451.65 412.45L457.83 410.44M451.65 412.45L455.47 417.71M451.65 412.45L447.83 417.71M451.65 412.45L445.47 410.44M459.2 409.78L459.2 403.28M459.2 409.78L465.38 407.77M459.2 409.78L463.02 415.04M459.2 409.78L455.38 415.04M459.2 409.78L453.02 407.77M466.75 407.11L466.75 400.61M466.75 407.11L472.93 405.11M466.75 407.11L470.57 412.37M466.75 407.11L462.93 412.37M466.75 407.11L460.57 405.11M474.3 404.45L474.3 397.95M474.3 404.45L480.48 402.44M474.3 404.45L478.12 409.71M474.3 404.45L470.48 409.71M474.3 404.45L468.12 402.44M481.85 401.94L481.85 395.44M481.85 401.94L488.03 399.93M481.85 401.94L485.67 407.2M481.85 401.94L478.03 407.2M481.85 401.94L475.67 399.93M489.4 399.43L489.4 392.93M489.4 399.43L495.58 397.42M489.4 399.43L493.22 404.68M489.4 399.43L485.58 404.68M489.4 399.43L483.22 397.42M496.95 396.91L496.95 390.41M496.95 396.91L503.13 394.9M496.95 396.91L500.77 402.17M496.95 396.91L493.13 402.17M496.95 396.91L490.77 394.9M504.5 394.3L504.5 387.8M504.5 394.3L510.68 392.29M504.5 394.3L508.32 399.56M504.5 394.3L500.68 399.56M504.5 394.3L498.32 392.29M512.05 391.62L512.05 385.12M512.05 391.62L518.23 389.61M512.05 391.62L515.87 396.88M512.05 391.62L508.23 396.88M512.05 391.62L505.87 389.61M519.6 388.94L519.6 382.44M519.6 388.94L525.78 386.94M519.6 388.94L523.42 394.2M519.6 388.94L515.78 394.2M519.6 388.94L513.42 386.94M527.15 386.26L527.15 379.76M527.15 386.26L533.33 384.26M527.15 386.26L530.97 391.52M527.15 386.26L523.33 391.52M527.15 386.26L520.97 384.26M534.7 383.59L534.7 377.09M534.7 383.59L540.88 381.58M534.7 383.59L538.52 388.84M534.7 383.59L530.88 388.84M534.7 383.59L528.52 381.58M542.25 380.91L542.25 374.41M542.25 380.91L548.43 378.9M542.25 380.91L546.07 386.16M542.25 380.91L538.43 386.16M542.25 380.91L536.07 378.9M549.8 378.23L549.8 371.73M549.8 378.23L555.98 376.22M549.8 378.23L553.62 383.49M549.8 378.23L545.98 383.49M549.8 378.23L543.62 376.22M557.35 375.55L557.35 369.05M557.35 375.55L563.53 373.54M557.35 375.55L561.17 380.81M557.35 375.55L553.53 380.81M557.35 375.55L551.17 373.54M564.9 372.87L564.9 366.37M564.9 372.87L571.08 370.86M564.9 372.87L568.72 378.13M564.9 372.87L561.08 378.13M564.9 372.87L558.72 370.86M572.45 370.34L572.45 363.84M572.45 370.34L578.63 368.33M572.45 370.34L576.27 375.6M572.45 370.34L568.63 375.6M572.45 370.34L566.27 368.33M580 367.92L580 361.42M580 367.92L586.18 365.91M580 367.92L583.82 373.18M580 367.92L576.18 373.18M580 367.92L573.82 365.91M587.55 365.5L587.55 359M587.55 365.5L593.73 363.49M587.55 365.5L591.37 370.76M587.55 365.5L583.73 370.76M587.55 365.5L581.37 363.49M595.1 362.58L595.1 356.08M595.1 362.58L601.28 360.57M595.1 362.58L598.92 367.84M595.1 362.58L591.28 367.84M595.1 362.58L588.92 360.57M602.65 359.54L602.65 353.04M602.65 359.54L608.83 357.54M602.65 359.54L606.47 364.8M602.65 359.54L598.83 364.8M602.65 359.54L596.47 357.54M610.2 356.51L610.2 350.01M610.2 356.51L616.38 354.5M610.2 356.51L614.02 361.77M610.2 356.51L606.38 361.77M610.2 356.51L604.02 354.5M617.75 353.48L617.75 346.98M617.75 353.48L623.93 351.47M617.75 353.48L621.57 358.74M617.75 353.48L613.93 358.74M617.75 353.48L611.57 351.47M625.3 350.11L625.3 343.61M625.3 350.11L631.48 348.1M625.3 350.11L629.12 355.37M625.3 350.11L621.48 355.37M625.3 350.11L619.12 348.1M632.85 346.74L632.85 340.24M632.85 346.74L639.03 344.73M632.85 346.74L636.67 352M632.85 346.74L629.03 352M632.85 346.74L626.67 344.73M640.4 343.37L640.4 336.87M640.4 343.37L646.58 341.36M640.4 343.37L644.22 348.63M640.4 343.37L636.58 348.63M640.4 343.37L634.22 341.36M647.95 340L647.95 333.5M647.95 340L654.13 337.99M647.95 340L651.77 345.26M647.95 340L644.13 345.26M647.95 340L641.77 337.99M655.5 336.63L655.5 330.13M655.5 336.63L661.68 334.63M655.5 336.63L659.32 341.89M655.5 336.63L651.68 341.89M655.5 336.63L649.32 334.63M663.05 333.56L663.05 327.06M663.05 333.56L669.23 331.55M663.05 333.56L666.87 338.82M663.05 333.56L659.23 338.82M663.05 333.56L656.87 331.55M670.6 331.38L670.6 324.88M670.6 331.38L676.78 329.37M670.6 331.38L674.42 336.64M670.6 331.38L666.78 336.64M670.6 331.38L664.42 329.37M678.15 329.19L678.15 322.69M678.15 329.19L684.33 327.19M678.15 329.19L681.97 334.45M678.15 329.19L674.33 334.45M678.15 329.19L671.97 327.19M685.7 327.01L685.7 320.51M685.7 327.01L691.88 325M685.7 327.01L689.52 332.27M685.7 327.01L681.88 332.27M685.7 327.01L679.52 325M693.25 324.82L693.25 318.32M693.25 324.82L699.43 322.82M693.25 324.82L697.07 330.08M693.25 324.82L689.43 330.08M693.25 324.82L687.07 322.82M700.8 323.06L700.8 316.56M700.8 323.06L706.98 321.05M700.8 323.06L704.62 328.32M700.8 323.06L696.98 328.32M700.8 323.06L694.62 321.05M708.35 321.52L708.35 315.02M708.35 321.52L714.53 319.51M708.35 321.52L712.17 326.78M708.35 321.52L704.53 326.78M708.35 321.52L702.17 319.51M715.9 320.36L715.9 313.86M715.9 320.36L722.08 318.35M715.9 320.36L719.72 325.62M715.9 320.36L712.08 325.62M715.9 320.36L709.72 318.35M723.45 319.42L723.45 312.92M723.45 319.42L729.63 317.42M723.45 319.42L727.27 324.68M723.45 319.42L719.63 324.68M723.45 319.42L717.27 317.42M731 318.49L731 311.99M731 318.49L737.18 316.48M731 318.49L734.82 323.74M731 318.49L727.18 323.74M731 318.49L724.82 316.48M738.55 317.89L738.55 311.39M738.55 317.89L744.73 315.88M738.55 317.89L742.37 323.15M738.55 317.89L734.73 323.15M738.55 317.89L732.37 315.88M746.1 317.46L746.1 310.96M746.1 317.46L752.28 315.45M746.1 317.46L749.92 322.72M746.1 317.46L742.28 322.72M746.1 317.46L739.92 315.45M753.65 317.04L753.65 310.54M753.65 317.04L759.83 315.03M753.65 317.04L757.47 322.3M753.65 317.04L749.83 322.3M753.65 317.04L747.47 315.03M761.2 316.61L761.2 310.11M761.2 316.61L767.38 314.6M761.2 316.61L765.02 321.87M761.2 316.61L757.38 321.87M761.2 316.61L755.02 314.6M768.75 316.36L768.75 309.86M768.75 316.36L774.93 314.35M768.75 316.36L772.57 321.62M768.75 316.36L764.93 321.62M768.75 316.36L762.57 314.35M776.3 316.2L776.3 309.7M776.3 316.2L782.48 314.19M776.3 316.2L780.12 321.46M776.3 316.2L772.48 321.46M776.3 316.2L770.12 314.19M783.85 316.04L783.85 309.54M783.85 316.04L790.03 314.03M783.85 316.04L787.67 321.29M783.85 316.04L780.03 321.29M783.85 316.04L777.67 314.03" fill="none" stroke="#ff0000" stroke-width="1.3"/>
<path d="M154.1 470.8L287.49 439.84L455.95 439.84L492.08 377.92L568.11 377.92L568.11 346.96L782.19 316.46" fill="none" stroke="#0000ff" stroke-width="1.8" stroke-dasharray="27.6 8.4"/>
</g>
<text transform="translate(114.03,327.8) scale(0.937,1)" font-size="36.06">1</text>
<text transform="translate(55.73,366.41) scale(1.100,1)" font-size="35.74" letter-spacing="2.53">0.75</text>
<text transform="translate(77.93,405.11) scale(1.100,1)" font-size="35.74" letter-spacing="2.64">0.5</text>
<text transform="translate(55.73,443.81) scale(1.100,1)" font-size="35.74" letter-spacing="2.53">0.25</text>
<text transform="translate(111.59,483.19) scale(1.190,1)" font-size="36">0</text>
<text transform="translate(143.08,515.24) scale(1.197,1)" font-size="36">0</text>
<text transform="translate(272.13,515.24) scale(1.100,1)" font-size="36" letter-spacing="2.66">100</text>
<text transform="translate(421.82,515.24) scale(1.100,1)" font-size="36" letter-spacing="3.03">200</text>
<text transform="translate(572.52,515.24) scale(1.100,1)" font-size="36" letter-spacing="2.58">300</text>
<text transform="translate(724.21,515.24) scale(1.100,1)" font-size="36" letter-spacing="2.58">400</text>
<text transform="translate(400.6,563.6) scale(0.885,1)" font-size="37.71">R</text>
<text transform="translate(443.19,562.32) scale(0.954,1)" font-size="39.89">(</text>
<text transform="translate(458.98,563.6) scale(1.098,1)" font-size="37.55">k</text>
<text transform="translate(481.37,563.42) scale(1.325,1)" font-size="36.64">p</text>
<text transform="translate(505.96,563.63) scale(1.107,1)" font-size="37.08">c</text>
<text transform="translate(526.62,562.32) scale(0.983,1)" font-size="39.89">)</text>
<text transform="translate(33.1,487.64) rotate(-90) scale(0.811,1)" font-size="38.63">N</text>
<text transform="translate(31.71,461.19) rotate(-90) scale(0.873,1)" font-size="40.44">(</text>
<text transform="translate(36.42,446.01) rotate(-90) scale(0.924,1)" font-size="43.51">&lt;</text>
<text transform="translate(33.1,419.34) rotate(-90) scale(0.811,1)" font-size="38.63">R</text>
<text transform="translate(31.71,394.84) rotate(-90) scale(0.694,1)" font-size="40.44">)</text>
<text transform="translate(39.26,378.42) rotate(-90) skewX(-18.14) scale(0.541,1)" font-size="54.03">/</text>
<text transform="translate(33.1,356.07) rotate(-90) scale(0.839,1)" font-size="38.63">N</text>
<text class="s" transform="translate(43.33,329.2) rotate(-90) scale(1.092,1)" font-size="27.13">tot</text>
<clipPath id="c3"><rect x="154.1" y="586.1" width="632.6" height="155.3"/></clipPath>
<g clip-path="url(#c3)">
<path d="M177.31 595.66V598.54M171.31 595.66H183.31M171.31 598.54H183.31M219.04 603.26V606.14M213.04 603.26H225.04M213.04 606.14H225.04M254.78 611.06V613.94M248.78 611.06H260.78M248.78 613.94H260.78M286.04 616.86V619.74M280.04 616.86H292.04M280.04 619.74H292.04M313.82 624.06V626.94M307.82 624.06H319.82M307.82 626.94H319.82M338.81 629.26V632.14M332.81 629.26H344.81M332.81 632.14H344.81M361.53 636.93V640.07M355.53 636.93H367.53M355.53 640.07H367.53M382.36 640.82V644.18M376.36 640.82H388.36M376.36 644.18H388.36M401.58 647.05V650.75M395.58 647.05H407.58M395.58 650.75H407.58M419.43 650.85V654.75M413.43 650.85H425.43M413.43 654.75H425.43M436.09 656.21V660.79M430.09 656.21H442.09M430.09 660.79H442.09M451.7 658.82V663.98M445.7 658.82H457.7M445.7 663.98H457.7M466.4 663.14V669.26M460.4 663.14H472.4M460.4 669.26H472.4M480.28 666.65V673.55M474.28 666.65H486.28M474.28 673.55H486.28M493.42 669.66V677.35M487.42 669.66H499.42M487.42 677.35H499.42M505.91 671.89V680.54M499.91 671.89H511.91M499.91 680.54H511.91M517.81 676.02V686.42M511.81 676.02H523.81M511.81 686.42H523.81M529.16 678.66V690.2M523.16 678.66H535.16M523.16 690.2H535.16M540.03 680.48V692.79M534.03 680.48H546.03M534.03 692.79H546.03M550.43 683.1V696.18M544.43 683.1H556.43M544.43 696.18H556.43M560.42 685V698.5M554.42 685H566.42M554.42 698.5H566.42M570.03 687.8V701.91M564.03 687.8H576.03M564.03 701.91H576.03M579.28 691.51V706.42M573.28 691.51H585.28M573.28 706.42H585.28M588.2 696.09V709.06M582.2 696.09H594.2M582.2 709.06H594.2M596.82 698.79V712.17M590.82 698.79H602.82M590.82 712.17H602.82M605.14 700.34V714.03M599.14 700.34H611.14M599.14 714.03H611.14M613.2 701.18V715.4M607.2 701.18H619.2M607.2 715.4H619.2M621.01 702.4V717.4M615.01 702.4H627.01M615.01 717.4H627.01M628.58 704V720M622.58 704H634.58M622.58 720H634.58M635.92 705.6V722.6M629.92 705.6H641.92M629.92 722.6H641.92M643.06 707.41V724.59M637.06 707.41H649.06M637.06 724.59H649.06M650 709.31V726.69M644 709.31H656M644 726.69H656M656.75 712.74V730.46M650.75 712.74H662.75M650.75 730.46H662.75M663.32 715.6V733.6M657.32 715.6H669.32M657.32 733.6H669.32M669.72 716.37V735.23M663.72 716.37H675.72M663.72 735.23H675.72M675.97 716.5V735.5M669.97 716.5H681.97M669.97 735.5H681.97M682.06 716.68V735.79M676.06 716.68H688.06M676.06 735.79H688.06M688.01 716.86V736.09M682.01 716.86H694.01M682.01 736.09H694.01M693.82 717.04V736.38M687.82 717.04H699.82M687.82 736.38H699.82M699.49 717.22V736.67M693.49 717.22H705.49M693.49 736.67H705.49M705.04 717.4V736.97M699.04 717.4H711.04M699.04 736.97H711.04M710.47 717.58V737.26M704.47 717.58H716.47M704.47 737.26H716.47M715.79 717.76V737.55M709.79 717.76H721.79M709.79 737.55H721.79M720.99 717.94V737.84M714.99 717.94H726.99M714.99 737.84H726.99M726.09 718.12V738.14M720.09 718.12H732.09M720.09 738.14H732.09M731.08 718.3V738.43M725.08 718.3H737.08M725.08 738.43H737.08M735.98 718.48V738.72M729.98 718.48H741.98M729.98 738.72H741.98M740.78 718.66V739.02M734.78 718.66H746.78M734.78 739.02H746.78M745.5 718.84V739.31M739.5 718.84H751.5M739.5 739.31H751.5M750.12 719.01V739.6M744.12 719.01H756.12M744.12 739.6H756.12M754.66 719.19V739.9M748.66 719.19H760.66M748.66 739.9H760.66M759.12 719.37V740.19M753.12 719.37H765.12M753.12 740.19H765.12M763.51 719.55V740.48M757.51 719.55H769.51M757.51 740.48H769.51M767.81 719.73V740.78M761.81 719.73H773.81M761.81 740.78H773.81M772.04 719.91V741.07M766.04 719.91H778.04M766.04 741.07H778.04M776.21 720.09V741.36M770.21 720.09H782.21M770.21 741.36H782.21M780.3 720.27V741.65M774.3 720.27H786.3M774.3 741.65H786.3M784.33 720.5V741.9M778.33 720.5H790.33M778.33 741.9H790.33M177.31 597.1L177.31 590.7M177.31 597.1L183.4 595.12M177.31 597.1L181.07 602.28M177.31 597.1L173.55 602.28M177.31 597.1L171.23 595.12M219.04 604.7L219.04 598.3M219.04 604.7L225.12 602.72M219.04 604.7L222.8 609.88M219.04 604.7L215.27 609.88M219.04 604.7L212.95 602.72M254.78 612.5L254.78 606.1M254.78 612.5L260.86 610.52M254.78 612.5L258.54 617.68M254.78 612.5L251.01 617.68M254.78 612.5L248.69 610.52M286.04 618.3L286.04 611.9M286.04 618.3L292.12 616.32M286.04 618.3L289.8 623.48M286.04 618.3L282.27 623.48M286.04 618.3L279.95 616.32M313.82 625.5L313.82 619.1M313.82 625.5L319.9 623.52M313.82 625.5L317.58 630.68M313.82 625.5L310.05 630.68M313.82 625.5L307.73 623.52M338.81 630.7L338.81 624.3M338.81 630.7L344.9 628.72M338.81 630.7L342.57 635.88M338.81 630.7L335.05 635.88M338.81 630.7L332.73 628.72M361.53 638.5L361.53 632.1M361.53 638.5L367.62 636.52M361.53 638.5L365.3 643.68M361.53 638.5L357.77 643.68M361.53 638.5L355.45 636.52M382.36 642.5L382.36 636.1M382.36 642.5L388.45 640.52M382.36 642.5L386.12 647.68M382.36 642.5L378.6 647.68M382.36 642.5L376.27 640.52M401.58 648.9L401.58 642.5M401.58 648.9L407.67 646.92M401.58 648.9L405.34 654.08M401.58 648.9L397.82 654.08M401.58 648.9L395.49 646.92M419.43 652.8L419.43 646.4M419.43 652.8L425.52 650.82M419.43 652.8L423.19 657.98M419.43 652.8L415.67 657.98M419.43 652.8L413.34 650.82M436.09 658.5L436.09 652.1M436.09 658.5L442.17 656.52M436.09 658.5L439.85 663.68M436.09 658.5L432.32 663.68M436.09 658.5L430 656.52M451.7 661.4L451.7 655M451.7 661.4L457.79 659.42M451.7 661.4L455.46 666.58M451.7 661.4L447.94 666.58M451.7 661.4L445.61 659.42M466.4 666.2L466.4 659.8M466.4 666.2L472.48 664.22M466.4 666.2L470.16 671.38M466.4 666.2L462.63 671.38M466.4 666.2L460.31 664.22M480.28 670.1L480.28 663.7M480.28 670.1L486.36 668.12M480.28 670.1L484.04 675.28M480.28 670.1L476.51 675.28M480.28 670.1L474.19 668.12M493.42 673.51L493.42 667.11M493.42 673.51L499.51 671.53M493.42 673.51L497.19 678.68M493.42 673.51L489.66 678.68M493.42 673.51L487.34 671.53M505.91 676.21L505.91 669.81M505.91 676.21L512 674.24M505.91 676.21L509.68 681.39M505.91 676.21L502.15 681.39M505.91 676.21L499.83 674.24M517.81 681.22L517.81 674.82M517.81 681.22L523.9 679.24M517.81 681.22L521.57 686.4M517.81 681.22L514.05 686.4M517.81 681.22L511.72 679.24M529.16 684.43L529.16 678.03M529.16 684.43L535.25 682.45M529.16 684.43L532.93 689.61M529.16 684.43L525.4 689.61M529.16 684.43L523.08 682.45M540.03 686.64L540.03 680.24M540.03 686.64L546.11 684.66M540.03 686.64L543.79 691.81M540.03 686.64L536.26 691.81M540.03 686.64L533.94 684.66M550.43 689.64L550.43 683.24M550.43 689.64L556.52 687.67M550.43 689.64L554.19 694.82M550.43 689.64L546.67 694.82M550.43 689.64L544.35 687.67M560.42 691.75L560.42 685.35M560.42 691.75L566.51 689.77M560.42 691.75L564.19 696.93M560.42 691.75L556.66 696.93M560.42 691.75L554.34 689.77M570.03 694.86L570.03 688.46M570.03 694.86L576.12 692.88M570.03 694.86L573.79 700.03M570.03 694.86L566.27 700.03M570.03 694.86L563.95 692.88M579.28 698.96L579.28 692.56M579.28 698.96L585.37 696.99M579.28 698.96L583.05 704.14M579.28 698.96L575.52 704.14M579.28 698.96L573.2 696.99M588.2 702.57L588.2 696.17M588.2 702.57L594.29 700.59M588.2 702.57L591.97 707.75M588.2 702.57L584.44 707.75M588.2 702.57L582.12 700.59M596.82 705.48L596.82 699.08M596.82 705.48L602.9 703.5M596.82 705.48L600.58 710.66M596.82 705.48L593.06 710.66M596.82 705.48L590.73 703.5M605.14 707.19L605.14 700.79M605.14 707.19L611.23 705.21M605.14 707.19L608.91 712.36M605.14 707.19L601.38 712.36M605.14 707.19L599.06 705.21M613.2 708.29L613.2 701.89M613.2 708.29L619.29 706.32M613.2 708.29L616.96 713.47M613.2 708.29L609.44 713.47M613.2 708.29L607.11 706.32M621.01 709.9L621.01 703.5M621.01 709.9L627.09 707.92M621.01 709.9L624.77 715.08M621.01 709.9L617.24 715.08M621.01 709.9L614.92 707.92M628.58 712L628.58 705.6M628.58 712L634.66 710.02M628.58 712L632.34 717.18M628.58 712L624.81 717.18M628.58 712L622.49 710.02M635.92 714.1L635.92 707.7M635.92 714.1L642.01 712.12M635.92 714.1L639.68 719.28M635.92 714.1L632.16 719.28M635.92 714.1L629.84 712.12M643.06 716L643.06 709.6M643.06 716L649.15 714.02M643.06 716L646.82 721.18M643.06 716L639.3 721.18M643.06 716L636.97 714.02M650 718L650 711.6M650 718L656.08 716.02M650 718L653.76 723.18M650 718L646.23 723.18M650 718L643.91 716.02M656.75 721.6L656.75 715.2M656.75 721.6L662.83 719.62M656.75 721.6L660.51 726.78M656.75 721.6L652.99 726.78M656.75 721.6L650.66 719.62M663.32 724.6L663.32 718.2M663.32 724.6L669.41 722.62M663.32 724.6L667.08 729.78M663.32 724.6L659.56 729.78M663.32 724.6L657.23 722.62M669.72 725.8L669.72 719.4M669.72 725.8L675.81 723.82M669.72 725.8L673.49 730.98M669.72 725.8L665.96 730.98M669.72 725.8L663.64 723.82M675.97 726L675.97 719.6M675.97 726L682.06 724.02M675.97 726L679.73 731.18M675.97 726L672.21 731.18M675.97 726L669.88 724.02M682.06 726.24L682.06 719.84M682.06 726.24L688.15 724.26M682.06 726.24L685.82 731.41M682.06 726.24L678.3 731.41M682.06 726.24L675.97 724.26M688.01 726.47L688.01 720.07M688.01 726.47L694.09 724.5M688.01 726.47L691.77 731.65M688.01 726.47L684.25 731.65M688.01 726.47L681.92 724.5M693.82 726.71L693.82 720.31M693.82 726.71L699.9 724.73M693.82 726.71L697.58 731.89M693.82 726.71L690.05 731.89M693.82 726.71L687.73 724.73M699.49 726.95L699.49 720.55M699.49 726.95L705.58 724.97M699.49 726.95L703.26 732.12M699.49 726.95L695.73 732.12M699.49 726.95L693.41 724.97M705.04 727.18L705.04 720.78M705.04 727.18L711.13 725.2M705.04 727.18L708.81 732.36M705.04 727.18L701.28 732.36M705.04 727.18L698.96 725.2M710.47 727.42L710.47 721.02M710.47 727.42L716.56 725.44M710.47 727.42L714.24 732.6M710.47 727.42L706.71 732.6M710.47 727.42L704.39 725.44M715.79 727.65L715.79 721.25M715.79 727.65L721.87 725.68M715.79 727.65L719.55 732.83M715.79 727.65L712.03 732.83M715.79 727.65L709.7 725.68M720.99 727.89L720.99 721.49M720.99 727.89L727.08 725.91M720.99 727.89L724.75 733.07M720.99 727.89L717.23 733.07M720.99 727.89L714.9 725.91M726.09 728.13L726.09 721.73M726.09 728.13L732.18 726.15M726.09 728.13L729.85 733.3M726.09 728.13L722.33 733.3M726.09 728.13L720 726.15M731.08 728.36L731.08 721.96M731.08 728.36L737.17 726.39M731.08 728.36L734.85 733.54M731.08 728.36L727.32 733.54M731.08 728.36L725 726.39M735.98 728.6L735.98 722.2M735.98 728.6L742.07 726.62M735.98 728.6L739.74 733.78M735.98 728.6L732.22 733.78M735.98 728.6L729.89 726.62M740.78 728.84L740.78 722.44M740.78 728.84L746.87 726.86M740.78 728.84L744.55 734.01M740.78 728.84L737.02 734.01M740.78 728.84L734.7 726.86M745.5 729.07L745.5 722.67M745.5 729.07L751.58 727.1M745.5 729.07L749.26 734.25M745.5 729.07L741.74 734.25M745.5 729.07L739.41 727.1M750.12 729.31L750.12 722.91M750.12 729.31L756.21 727.33M750.12 729.31L753.88 734.49M750.12 729.31L746.36 734.49M750.12 729.31L744.04 727.33M754.66 729.55L754.66 723.15M754.66 729.55L760.75 727.57M754.66 729.55L758.43 734.72M754.66 729.55L750.9 734.72M754.66 729.55L748.58 727.57M759.12 729.78L759.12 723.38M759.12 729.78L765.21 727.8M759.12 729.78L762.89 734.96M759.12 729.78L755.36 734.96M759.12 729.78L753.04 727.8M763.51 730.02L763.51 723.62M763.51 730.02L769.59 728.04M763.51 730.02L767.27 735.2M763.51 730.02L759.74 735.2M763.51 730.02L757.42 728.04M767.81 730.25L767.81 723.85M767.81 730.25L773.9 728.28M767.81 730.25L771.57 735.43M767.81 730.25L764.05 735.43M767.81 730.25L761.72 728.28M772.04 730.49L772.04 724.09M772.04 730.49L778.13 728.51M772.04 730.49L775.81 735.67M772.04 730.49L768.28 735.67M772.04 730.49L765.96 728.51M776.21 730.73L776.21 724.33M776.21 730.73L782.29 728.75M776.21 730.73L779.97 735.9M776.21 730.73L772.45 735.9M776.21 730.73L770.12 728.75M780.3 730.96L780.3 724.56M780.3 730.96L786.39 728.99M780.3 730.96L784.06 736.14M780.3 730.96L776.54 736.14M780.3 730.96L774.22 728.99M784.33 731.2L784.33 724.8M784.33 731.2L790.42 729.22M784.33 731.2L788.09 736.38M784.33 731.2L780.57 736.38M784.33 731.2L778.24 729.22" stroke="#bebebe" stroke-width="1.3" fill="none"/>
</g>
<rect x="154.1" y="586.1" width="632.6" height="155.3" fill="none" stroke="#000" stroke-width="1.4"/>
<path d="M326.63 586.1v23.5M326.63 741.4v-23.5M728.6 586.1v23.5M728.6 741.4v-23.5" stroke="#000" stroke-width="1.4" fill="none"/>
<path d="M199.04 586.1v11.8M199.04 741.4v-11.8M237.54 586.1v11.8M237.54 741.4v-11.8M270.9 586.1v11.8M270.9 741.4v-11.8M300.31 586.1v11.8M300.31 741.4v-11.8M499.75 586.1v11.8M499.75 741.4v-11.8M601.02 586.1v11.8M601.02 741.4v-11.8M672.87 586.1v11.8M672.87 741.4v-11.8M774.13 586.1v11.8M774.13 741.4v-11.8" stroke="#000" stroke-width="1.4" fill="none"/>
<path d="M154.1 691h23.5M786.7 691h-23.5M154.1 640.6h23.5M786.7 640.6h-23.5M154.1 590.2h23.5M786.7 590.2h-23.5" stroke="#000" stroke-width="1.4" fill="none"/>
<path d="M154.1 726.23h11.8M786.7 726.23h-11.8M154.1 717.35h11.8M786.7 717.35h-11.8M154.1 711.06h11.8M786.7 711.06h-11.8M154.1 706.17h11.8M786.7 706.17h-11.8M154.1 702.18h11.8M786.7 702.18h-11.8M154.1 698.81h11.8M786.7 698.81h-11.8M154.1 695.88h11.8M786.7 695.88h-11.8M154.1 693.31h11.8M786.7 693.31h-11.8M154.1 675.83h11.8M786.7 675.83h-11.8M154.1 666.95h11.8M786.7 666.95h-11.8M154.1 660.66h11.8M786.7 660.66h-11.8M154.1 655.77h11.8M786.7 655.77h-11.8M154.1 651.78h11.8M786.7 651.78h-11.8M154.1 648.41h11.8M786.7 648.41h-11.8M154.1 645.48h11.8M786.7 645.48h-11.8M154.1 642.91h11.8M786.7 642.91h-11.8M154.1 625.43h11.8M786.7 625.43h-11.8M154.1 616.55h11.8M786.7 616.55h-11.8M154.1 610.26h11.8M786.7 610.26h-11.8M154.1 605.37h11.8M786.7 605.37h-11.8M154.1 601.38h11.8M786.7 601.38h-11.8M154.1 598.01h11.8M786.7 598.01h-11.8M154.1 595.08h11.8M786.7 595.08h-11.8M154.1 592.51h11.8M786.7 592.51h-11.8" stroke="#000" stroke-width="1.4" fill="none"/>
<g clip-path="url(#c3)">
<g fill="none" stroke="#0000ff" stroke-width="1.4">
<circle cx="177.31" cy="633.6" r="6.5"/>
<circle cx="219.04" cy="634.7" r="6.5"/>
<circle cx="254.78" cy="635.9" r="6.5"/>
<circle cx="286.04" cy="640" r="6.5"/>
<circle cx="313.82" cy="640" r="6.5"/>
<circle cx="338.81" cy="640.8" r="6.5"/>
<circle cx="361.53" cy="641.4" r="6.5"/>
<circle cx="382.36" cy="645.9" r="6.5"/>
<circle cx="401.58" cy="647.5" r="6.5"/>
<circle cx="419.43" cy="650.8" r="6.5"/>
<circle cx="436.09" cy="650.8" r="6.5"/>
<circle cx="451.7" cy="657.6" r="6.5"/>
<circle cx="466.4" cy="662.4" r="6.5"/>
<circle cx="480.28" cy="662.8" r="6.5"/>
<circle cx="493.42" cy="666.2" r="6.5"/>
<circle cx="505.91" cy="675.2" r="6.5"/>
<circle cx="517.81" cy="690.3" r="6.5"/>
<circle cx="529.16" cy="690.3" r="6.5"/>
<circle cx="540.03" cy="690.3" r="6.5"/>
<circle cx="550.43" cy="690.3" r="6.5"/>
<circle cx="560.42" cy="690.3" r="6.5"/>
<circle cx="570.03" cy="690.3" r="6.5"/>
<circle cx="579.28" cy="690.3" r="6.5"/>
<circle cx="588.2" cy="705.9" r="6.5"/>
<circle cx="596.82" cy="705.9" r="6.5"/>
</g>
<path d="M177.31 632.4V634.8M171.31 632.4H183.31M171.31 634.8H183.31M219.04 633.48V635.92M213.04 633.48H225.04M213.04 635.92H225.04M254.78 634.65V637.15M248.78 634.65H260.78M248.78 637.15H260.78M286.04 635.24V637.76M280.04 635.24H292.04M280.04 637.76H292.04M313.82 636.31V638.89M307.82 636.31H319.82M307.82 638.89H319.82M338.81 637.48V640.12M332.81 637.48H344.81M332.81 640.12H344.81M361.53 640.91V643.69M355.53 640.91H367.53M355.53 643.69H367.53M382.36 644.91V647.89M376.36 644.91H388.36M376.36 647.89H388.36M401.58 650.39V653.61M395.58 650.39H407.58M395.58 653.61H407.58M419.43 654.48V657.92M413.43 654.48H425.43M413.43 657.92H425.43M436.09 657.97V662.03M430.09 657.97H442.09M430.09 662.03H442.09M451.7 660.26V664.74M445.7 660.26H457.7M445.7 664.74H457.7M466.4 664.57V669.83M460.4 664.57H472.4M460.4 669.83H472.4M480.28 668.6V674.6M474.28 668.6H486.28M474.28 674.6H486.28M493.42 671.49V678.31M487.42 671.49H499.42M487.42 678.31H499.42M505.91 673.71V681.29M499.91 673.71H511.91M499.91 681.29H511.91M517.81 677.89V686.91M511.81 677.89H523.81M511.81 686.91H523.81M529.16 680.54V690.46M523.16 680.54H535.16M523.16 690.46H535.16M540.03 682.33V692.87M534.03 682.33H546.03M534.03 692.87H546.03M550.43 684.98V696.02M544.43 684.98H556.43M544.43 696.02H556.43M560.42 686.81V698.19M554.42 686.81H566.42M554.42 698.19H566.42M570.03 689.57V701.43M564.03 689.57H576.03M564.03 701.43H576.03M579.28 693.24V705.76M573.28 693.24H585.28M573.28 705.76H585.28M588.2 696.49V709.51M582.2 696.49H594.2M582.2 709.51H594.2M596.82 699.09V712.51M590.82 699.09H602.82M590.82 712.51H602.82M605.14 700.5V714.3M599.14 700.5H611.14M599.14 714.3H611.14M613.2 701.26V715.54M607.2 701.26H619.2M607.2 715.54H619.2M621.01 702.4V717.4M615.01 702.4H627.01M615.01 717.4H627.01M628.58 704V720M622.58 704H634.58M622.58 720H634.58M635.92 705.6V722.6M629.92 705.6H641.92M629.92 722.6H641.92M643.06 707.41V724.59M637.06 707.41H649.06M637.06 724.59H649.06M650 709.31V726.69M644 709.31H656M644 726.69H656M656.75 712.74V730.46M650.75 712.74H662.75M650.75 730.46H662.75M663.32 715.6V733.6M657.32 715.6H669.32M657.32 733.6H669.32M669.72 716.37V735.23M663.72 716.37H675.72M663.72 735.23H675.72M675.97 716.5V735.5M669.97 716.5H681.97M669.97 735.5H681.97M682.06 716.68V735.79M676.06 716.68H688.06M676.06 735.79H688.06M688.01 716.86V736.09M682.01 716.86H694.01M682.01 736.09H694.01M693.82 717.04V736.38M687.82 717.04H699.82M687.82 736.38H699.82M699.49 717.22V736.67M693.49 717.22H705.49M693.49 736.67H705.49M705.04 717.4V736.97M699.04 717.4H711.04M699.04 736.97H711.04M710.47 717.58V737.26M704.47 717.58H716.47M704.47 737.26H716.47M715.79 717.76V737.55M709.79 717.76H721.79M709.79 737.55H721.79M720.99 717.94V737.84M714.99 717.94H726.99M714.99 737.84H726.99M726.09 718.12V738.14M720.09 718.12H732.09M720.09 738.14H732.09M731.08 718.3V738.43M725.08 718.3H737.08M725.08 738.43H737.08M735.98 718.48V738.72M729.98 718.48H741.98M729.98 738.72H741.98M740.78 718.66V739.02M734.78 718.66H746.78M734.78 739.02H746.78M745.5 718.84V739.31M739.5 718.84H751.5M739.5 739.31H751.5M750.12 719.01V739.6M744.12 719.01H756.12M744.12 739.6H756.12M754.66 719.19V739.9M748.66 719.19H760.66M748.66 739.9H760.66M759.12 719.37V740.19M753.12 719.37H765.12M753.12 740.19H765.12M763.51 719.55V740.48M757.51 719.55H769.51M757.51 740.48H769.51M767.81 719.73V740.78M761.81 719.73H773.81M761.81 740.78H773.81M772.04 719.91V741.07M766.04 719.91H778.04M766.04 741.07H778.04M776.21 720.09V741.36M770.21 720.09H782.21M770.21 741.36H782.21M780.3 720.27V741.65M774.3 720.27H786.3M774.3 741.65H786.3M784.33 720.5V741.9M778.33 720.5H790.33M778.33 741.9H790.33M177.31 633.6L177.31 627.2M177.31 633.6L183.4 631.62M177.31 633.6L181.07 638.78M177.31 633.6L173.55 638.78M177.31 633.6L171.23 631.62M219.04 634.7L219.04 628.3M219.04 634.7L225.12 632.72M219.04 634.7L222.8 639.88M219.04 634.7L215.27 639.88M219.04 634.7L212.95 632.72M254.78 635.9L254.78 629.5M254.78 635.9L260.86 633.92M254.78 635.9L258.54 641.08M254.78 635.9L251.01 641.08M254.78 635.9L248.69 633.92M286.04 636.5L286.04 630.1M286.04 636.5L292.12 634.52M286.04 636.5L289.8 641.68M286.04 636.5L282.27 641.68M286.04 636.5L279.95 634.52M313.82 637.6L313.82 631.2M313.82 637.6L319.9 635.62M313.82 637.6L317.58 642.78M313.82 637.6L310.05 642.78M313.82 637.6L307.73 635.62M338.81 638.8L338.81 632.4M338.81 638.8L344.9 636.82M338.81 638.8L342.57 643.98M338.81 638.8L335.05 643.98M338.81 638.8L332.73 636.82M361.53 642.3L361.53 635.9M361.53 642.3L367.62 640.32M361.53 642.3L365.3 647.48M361.53 642.3L357.77 647.48M361.53 642.3L355.45 640.32M382.36 646.4L382.36 640M382.36 646.4L388.45 644.42M382.36 646.4L386.12 651.58M382.36 646.4L378.6 651.58M382.36 646.4L376.27 644.42M401.58 652L401.58 645.6M401.58 652L407.67 650.02M401.58 652L405.34 657.18M401.58 652L397.82 657.18M401.58 652L395.49 650.02M419.43 656.2L419.43 649.8M419.43 656.2L425.52 654.22M419.43 656.2L423.19 661.38M419.43 656.2L415.67 661.38M419.43 656.2L413.34 654.22M436.09 660L436.09 653.6M436.09 660L442.17 658.02M436.09 660L439.85 665.18M436.09 660L432.32 665.18M436.09 660L430 658.02M451.7 662.5L451.7 656.1M451.7 662.5L457.79 660.52M451.7 662.5L455.46 667.68M451.7 662.5L447.94 667.68M451.7 662.5L445.61 660.52M466.4 667.2L466.4 660.8M466.4 667.2L472.48 665.22M466.4 667.2L470.16 672.38M466.4 667.2L462.63 672.38M466.4 667.2L460.31 665.22M480.28 671.6L480.28 665.2M480.28 671.6L486.36 669.62M480.28 671.6L484.04 676.78M480.28 671.6L476.51 676.78M480.28 671.6L474.19 669.62M493.42 674.9L493.42 668.5M493.42 674.9L499.51 672.92M493.42 674.9L497.19 680.08M493.42 674.9L489.66 680.08M493.42 674.9L487.34 672.92M505.91 677.5L505.91 671.1M505.91 677.5L512 675.52M505.91 677.5L509.68 682.68M505.91 677.5L502.15 682.68M505.91 677.5L499.83 675.52M517.81 682.4L517.81 676M517.81 682.4L523.9 680.42M517.81 682.4L521.57 687.58M517.81 682.4L514.05 687.58M517.81 682.4L511.72 680.42M529.16 685.5L529.16 679.1M529.16 685.5L535.25 683.52M529.16 685.5L532.93 690.68M529.16 685.5L525.4 690.68M529.16 685.5L523.08 683.52M540.03 687.6L540.03 681.2M540.03 687.6L546.11 685.62M540.03 687.6L543.79 692.78M540.03 687.6L536.26 692.78M540.03 687.6L533.94 685.62M550.43 690.5L550.43 684.1M550.43 690.5L556.52 688.52M550.43 690.5L554.19 695.68M550.43 690.5L546.67 695.68M550.43 690.5L544.35 688.52M560.42 692.5L560.42 686.1M560.42 692.5L566.51 690.52M560.42 692.5L564.19 697.68M560.42 692.5L556.66 697.68M560.42 692.5L554.34 690.52M570.03 695.5L570.03 689.1M570.03 695.5L576.12 693.52M570.03 695.5L573.79 700.68M570.03 695.5L566.27 700.68M570.03 695.5L563.95 693.52M579.28 699.5L579.28 693.1M579.28 699.5L585.37 697.52M579.28 699.5L583.05 704.68M579.28 699.5L575.52 704.68M579.28 699.5L573.2 697.52M588.2 703L588.2 696.6M588.2 703L594.29 701.02M588.2 703L591.97 708.18M588.2 703L584.44 708.18M588.2 703L582.12 701.02M596.82 705.8L596.82 699.4M596.82 705.8L602.9 703.82M596.82 705.8L600.58 710.98M596.82 705.8L593.06 710.98M596.82 705.8L590.73 703.82M605.14 707.4L605.14 701M605.14 707.4L611.23 705.42M605.14 707.4L608.91 712.58M605.14 707.4L601.38 712.58M605.14 707.4L599.06 705.42M613.2 708.4L613.2 702M613.2 708.4L619.29 706.42M613.2 708.4L616.96 713.58M613.2 708.4L609.44 713.58M613.2 708.4L607.11 706.42M621.01 709.9L621.01 703.5M621.01 709.9L627.09 707.92M621.01 709.9L624.77 715.08M621.01 709.9L617.24 715.08M621.01 709.9L614.92 707.92M628.58 712L628.58 705.6M628.58 712L634.66 710.02M628.58 712L632.34 717.18M628.58 712L624.81 717.18M628.58 712L622.49 710.02M635.92 714.1L635.92 707.7M635.92 714.1L642.01 712.12M635.92 714.1L639.68 719.28M635.92 714.1L632.16 719.28M635.92 714.1L629.84 712.12M643.06 716L643.06 709.6M643.06 716L649.15 714.02M643.06 716L646.82 721.18M643.06 716L639.3 721.18M643.06 716L636.97 714.02M650 718L650 711.6M650 718L656.08 716.02M650 718L653.76 723.18M650 718L646.23 723.18M650 718L643.91 716.02M656.75 721.6L656.75 715.2M656.75 721.6L662.83 719.62M656.75 721.6L660.51 726.78M656.75 721.6L652.99 726.78M656.75 721.6L650.66 719.62M663.32 724.6L663.32 718.2M663.32 724.6L669.41 722.62M663.32 724.6L667.08 729.78M663.32 724.6L659.56 729.78M663.32 724.6L657.23 722.62M669.72 725.8L669.72 719.4M669.72 725.8L675.81 723.82M669.72 725.8L673.49 730.98M669.72 725.8L665.96 730.98M669.72 725.8L663.64 723.82M675.97 726L675.97 719.6M675.97 726L682.06 724.02M675.97 726L679.73 731.18M675.97 726L672.21 731.18M675.97 726L669.88 724.02M682.06 726.24L682.06 719.84M682.06 726.24L688.15 724.26M682.06 726.24L685.82 731.41M682.06 726.24L678.3 731.41M682.06 726.24L675.97 724.26M688.01 726.47L688.01 720.07M688.01 726.47L694.09 724.5M688.01 726.47L691.77 731.65M688.01 726.47L684.25 731.65M688.01 726.47L681.92 724.5M693.82 726.71L693.82 720.31M693.82 726.71L699.9 724.73M693.82 726.71L697.58 731.89M693.82 726.71L690.05 731.89M693.82 726.71L687.73 724.73M699.49 726.95L699.49 720.55M699.49 726.95L705.58 724.97M699.49 726.95L703.26 732.12M699.49 726.95L695.73 732.12M699.49 726.95L693.41 724.97M705.04 727.18L705.04 720.78M705.04 727.18L711.13 725.2M705.04 727.18L708.81 732.36M705.04 727.18L701.28 732.36M705.04 727.18L698.96 725.2M710.47 727.42L710.47 721.02M710.47 727.42L716.56 725.44M710.47 727.42L714.24 732.6M710.47 727.42L706.71 732.6M710.47 727.42L704.39 725.44M715.79 727.65L715.79 721.25M715.79 727.65L721.87 725.68M715.79 727.65L719.55 732.83M715.79 727.65L712.03 732.83M715.79 727.65L709.7 725.68M720.99 727.89L720.99 721.49M720.99 727.89L727.08 725.91M720.99 727.89L724.75 733.07M720.99 727.89L717.23 733.07M720.99 727.89L714.9 725.91M726.09 728.13L726.09 721.73M726.09 728.13L732.18 726.15M726.09 728.13L729.85 733.3M726.09 728.13L722.33 733.3M726.09 728.13L720 726.15M731.08 728.36L731.08 721.96M731.08 728.36L737.17 726.39M731.08 728.36L734.85 733.54M731.08 728.36L727.32 733.54M731.08 728.36L725 726.39M735.98 728.6L735.98 722.2M735.98 728.6L742.07 726.62M735.98 728.6L739.74 733.78M735.98 728.6L732.22 733.78M735.98 728.6L729.89 726.62M740.78 728.84L740.78 722.44M740.78 728.84L746.87 726.86M740.78 728.84L744.55 734.01M740.78 728.84L737.02 734.01M740.78 728.84L734.7 726.86M745.5 729.07L745.5 722.67M745.5 729.07L751.58 727.1M745.5 729.07L749.26 734.25M745.5 729.07L741.74 734.25M745.5 729.07L739.41 727.1M750.12 729.31L750.12 722.91M750.12 729.31L756.21 727.33M750.12 729.31L753.88 734.49M750.12 729.31L746.36 734.49M750.12 729.31L744.04 727.33M754.66 729.55L754.66 723.15M754.66 729.55L760.75 727.57M754.66 729.55L758.43 734.72M754.66 729.55L750.9 734.72M754.66 729.55L748.58 727.57M759.12 729.78L759.12 723.38M759.12 729.78L765.21 727.8M759.12 729.78L762.89 734.96M759.12 729.78L755.36 734.96M759.12 729.78L753.04 727.8M763.51 730.02L763.51 723.62M763.51 730.02L769.59 728.04M763.51 730.02L767.27 735.2M763.51 730.02L759.74 735.2M763.51 730.02L757.42 728.04M767.81 730.25L767.81 723.85M767.81 730.25L773.9 728.28M767.81 730.25L771.57 735.43M767.81 730.25L764.05 735.43M767.81 730.25L761.72 728.28M772.04 730.49L772.04 724.09M772.04 730.49L778.13 728.51M772.04 730.49L775.81 735.67M772.04 730.49L768.28 735.67M772.04 730.49L765.96 728.51M776.21 730.73L776.21 724.33M776.21 730.73L782.29 728.75M776.21 730.73L779.97 735.9M776.21 730.73L772.45 735.9M776.21 730.73L770.12 728.75M780.3 730.96L780.3 724.56M780.3 730.96L786.39 728.99M780.3 730.96L784.06 736.14M780.3 730.96L776.54 736.14M780.3 730.96L774.22 728.99M784.33 731.2L784.33 724.8M784.33 731.2L790.42 729.22M784.33 731.2L788.09 736.38M784.33 731.2L780.57 736.38M784.33 731.2L778.24 729.22" stroke="#ff0000" stroke-width="1.3" fill="none"/>
<path d="M204.5 586.1L786.7 737.6M204.5 586.1L768.7 741.4" stroke="#000" stroke-width="1.5" fill="none"/>
</g>
<text transform="translate(46.03,602.69) scale(1.100,1)" font-size="36" letter-spacing="2.32">1000</text>
<text transform="translate(67.73,653.09) scale(1.100,1)" font-size="36" letter-spacing="2.61">100</text>
<text transform="translate(90.63,703.39) scale(1.100,1)" font-size="36" letter-spacing="2.41">10</text>
<text transform="translate(114.03,753.5) scale(0.933,1)" font-size="36.21">1</text>
<text transform="translate(305.25,785.14) scale(1.100,1)" font-size="35.85" letter-spacing="2.36">10</text>
<text transform="translate(705.33,785.14) scale(1.100,1)" font-size="35.85" letter-spacing="5.01">50</text>
<text transform="translate(378.1,815.69) scale(0.882,1)" font-size="34.33">V</text>
<text class="s" transform="translate(398.51,826.99) scale(1.319,1)" font-size="20.63">c</text>
<text transform="translate(427.92,816.85) scale(1.221,1)" font-size="37.91">(</text>
<text transform="translate(445.02,816) scale(1.247,1)" font-size="35.25">k</text>
<text transform="translate(467.9,816) scale(1.289,1)" font-size="35.11">m</text>
<text transform="translate(506.18,822.51) skewX(-20.21) scale(0.603,1)" font-size="48.51">/</text>
<text transform="translate(527.57,816.15) scale(1.362,1)" font-size="35.42">s</text>
<text transform="translate(547.73,816.85) scale(1.116,1)" font-size="37.91">)</text>
<text transform="translate(33.2,721.96) rotate(-90) scale(0.828,1)" font-size="38.78">N</text>
<text transform="translate(31.82,695.66) rotate(-90) scale(0.892,1)" font-size="41.32">(</text>
<text transform="translate(36.82,679.02) rotate(-90) scale(0.885,1)" font-size="43.51">&gt;</text>
<text transform="translate(33.02,653.56) rotate(-90) scale(0.668,1)" font-size="38.51">V</text>
<text class="s" transform="translate(43.66,632.39) rotate(-90) scale(1.155,1)" font-size="23.54">c</text>
<text transform="translate(31.82,618.38) rotate(-90) scale(0.949,1)" font-size="41.32">)</text>
</svg></body></html>
